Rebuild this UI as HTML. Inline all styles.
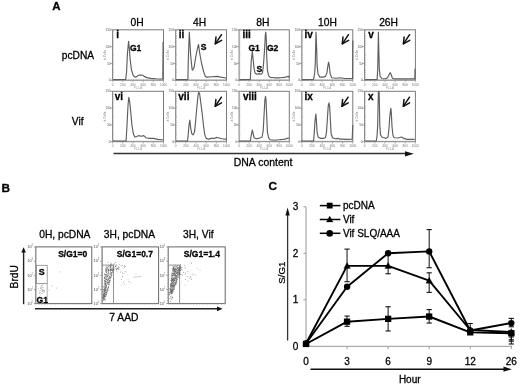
<!DOCTYPE html>
<html><head><meta charset="utf-8"><style>
html,body{margin:0;padding:0;background:#fff;}
svg{display:block;will-change:transform;}
.t{stroke:#000;stroke-width:0.28px;}
</style></head><body>
<svg width="520" height="385" viewBox="0 0 520 385">
<rect width="520" height="385" fill="#fff"/>
<text class="t" x="52.3" y="10" font-family="Liberation Sans, sans-serif" font-size="11.5" font-weight="bold">A</text>
<text class="t" x="137" y="26" font-family="Liberation Sans, sans-serif" font-size="10.3" text-anchor="middle">0H</text>
<text class="t" x="199.6" y="26" font-family="Liberation Sans, sans-serif" font-size="10.3" text-anchor="middle">4H</text>
<text class="t" x="262.9" y="26" font-family="Liberation Sans, sans-serif" font-size="10.3" text-anchor="middle">8H</text>
<text class="t" x="327.5" y="26" font-family="Liberation Sans, sans-serif" font-size="10.3" text-anchor="middle">10H</text>
<text class="t" x="388.6" y="26" font-family="Liberation Sans, sans-serif" font-size="10.3" text-anchor="middle">26H</text>
<text class="t" x="61.8" y="58.6" font-family="Liberation Sans, sans-serif" font-size="10.2">pcDNA</text>
<text class="t" x="71.8" y="125" font-family="Liberation Sans, sans-serif" font-size="10.2">Vif</text>
<rect x="112.6" y="29.8" width="50.9" height="50.4" fill="none" stroke="#7a7a7a" stroke-width="1"/><line x1="113.3" y1="29.8" x2="113.3" y2="80.2" stroke="#aaa" stroke-width="1.2" stroke-dasharray="0.6 1.1"/><line x1="112.6" y1="79.5" x2="163.5" y2="79.5" stroke="#aaa" stroke-width="1.2" stroke-dasharray="0.6 1.1"/><line x1="110.19999999999999" y1="29.8" x2="112.6" y2="29.8" stroke="#888" stroke-width="0.8"/><text x="110.6" y="30.900000000000002" font-family="Liberation Sans, sans-serif" font-size="3.1" fill="#555" text-anchor="end">150</text><line x1="110.19999999999999" y1="46.6" x2="112.6" y2="46.6" stroke="#888" stroke-width="0.8"/><text x="110.6" y="47.7" font-family="Liberation Sans, sans-serif" font-size="3.1" fill="#555" text-anchor="end">100</text><line x1="110.19999999999999" y1="63.400000000000006" x2="112.6" y2="63.400000000000006" stroke="#888" stroke-width="0.8"/><text x="110.6" y="64.5" font-family="Liberation Sans, sans-serif" font-size="3.1" fill="#555" text-anchor="end">50</text><line x1="110.19999999999999" y1="80.2" x2="112.6" y2="80.2" stroke="#888" stroke-width="0.8"/><text x="110.6" y="81.3" font-family="Liberation Sans, sans-serif" font-size="3.1" fill="#555" text-anchor="end">0</text><text transform="translate(106.0,55.0) rotate(-90)" font-family="Liberation Sans, sans-serif" font-size="3.2" fill="#777" text-anchor="middle"># Cells</text><line x1="112.6" y1="80.2" x2="112.6" y2="82.2" stroke="#999" stroke-width="0.7"/><text x="112.6" y="85.8" font-family="Liberation Sans, sans-serif" font-size="3.2" fill="#777" text-anchor="middle">0</text><line x1="122.78" y1="80.2" x2="122.78" y2="82.2" stroke="#999" stroke-width="0.7"/><text x="122.78" y="85.8" font-family="Liberation Sans, sans-serif" font-size="3.2" fill="#777" text-anchor="middle">200</text><line x1="132.95999999999998" y1="80.2" x2="132.95999999999998" y2="82.2" stroke="#999" stroke-width="0.7"/><text x="132.95999999999998" y="85.8" font-family="Liberation Sans, sans-serif" font-size="3.2" fill="#777" text-anchor="middle">400</text><line x1="143.14" y1="80.2" x2="143.14" y2="82.2" stroke="#999" stroke-width="0.7"/><text x="143.14" y="85.8" font-family="Liberation Sans, sans-serif" font-size="3.2" fill="#777" text-anchor="middle">600</text><line x1="153.32" y1="80.2" x2="153.32" y2="82.2" stroke="#999" stroke-width="0.7"/><text x="153.32" y="85.8" font-family="Liberation Sans, sans-serif" font-size="3.2" fill="#777" text-anchor="middle">800</text><line x1="163.5" y1="80.2" x2="163.5" y2="82.2" stroke="#999" stroke-width="0.7"/><text x="163.5" y="85.8" font-family="Liberation Sans, sans-serif" font-size="3.2" fill="#777" text-anchor="middle">1000</text><text x="138.04999999999998" y="88.60000000000001" font-family="Liberation Sans, sans-serif" font-size="3" fill="#999" text-anchor="middle">FL2-A</text>
<rect x="175.7" y="29.8" width="50.8" height="50.4" fill="none" stroke="#7a7a7a" stroke-width="1"/><line x1="176.39999999999998" y1="29.8" x2="176.39999999999998" y2="80.2" stroke="#aaa" stroke-width="1.2" stroke-dasharray="0.6 1.1"/><line x1="175.7" y1="79.5" x2="226.5" y2="79.5" stroke="#aaa" stroke-width="1.2" stroke-dasharray="0.6 1.1"/><line x1="173.29999999999998" y1="29.8" x2="175.7" y2="29.8" stroke="#888" stroke-width="0.8"/><text x="173.7" y="30.900000000000002" font-family="Liberation Sans, sans-serif" font-size="3.1" fill="#555" text-anchor="end">150</text><line x1="173.29999999999998" y1="46.6" x2="175.7" y2="46.6" stroke="#888" stroke-width="0.8"/><text x="173.7" y="47.7" font-family="Liberation Sans, sans-serif" font-size="3.1" fill="#555" text-anchor="end">100</text><line x1="173.29999999999998" y1="63.400000000000006" x2="175.7" y2="63.400000000000006" stroke="#888" stroke-width="0.8"/><text x="173.7" y="64.5" font-family="Liberation Sans, sans-serif" font-size="3.1" fill="#555" text-anchor="end">50</text><line x1="173.29999999999998" y1="80.2" x2="175.7" y2="80.2" stroke="#888" stroke-width="0.8"/><text x="173.7" y="81.3" font-family="Liberation Sans, sans-serif" font-size="3.1" fill="#555" text-anchor="end">0</text><text transform="translate(169.1,55.0) rotate(-90)" font-family="Liberation Sans, sans-serif" font-size="3.2" fill="#777" text-anchor="middle"># Cells</text><line x1="175.7" y1="80.2" x2="175.7" y2="82.2" stroke="#999" stroke-width="0.7"/><text x="175.7" y="85.8" font-family="Liberation Sans, sans-serif" font-size="3.2" fill="#777" text-anchor="middle">0</text><line x1="185.85999999999999" y1="80.2" x2="185.85999999999999" y2="82.2" stroke="#999" stroke-width="0.7"/><text x="185.85999999999999" y="85.8" font-family="Liberation Sans, sans-serif" font-size="3.2" fill="#777" text-anchor="middle">200</text><line x1="196.01999999999998" y1="80.2" x2="196.01999999999998" y2="82.2" stroke="#999" stroke-width="0.7"/><text x="196.01999999999998" y="85.8" font-family="Liberation Sans, sans-serif" font-size="3.2" fill="#777" text-anchor="middle">400</text><line x1="206.17999999999998" y1="80.2" x2="206.17999999999998" y2="82.2" stroke="#999" stroke-width="0.7"/><text x="206.17999999999998" y="85.8" font-family="Liberation Sans, sans-serif" font-size="3.2" fill="#777" text-anchor="middle">600</text><line x1="216.33999999999997" y1="80.2" x2="216.33999999999997" y2="82.2" stroke="#999" stroke-width="0.7"/><text x="216.33999999999997" y="85.8" font-family="Liberation Sans, sans-serif" font-size="3.2" fill="#777" text-anchor="middle">800</text><line x1="226.5" y1="80.2" x2="226.5" y2="82.2" stroke="#999" stroke-width="0.7"/><text x="226.5" y="85.8" font-family="Liberation Sans, sans-serif" font-size="3.2" fill="#777" text-anchor="middle">1000</text><text x="201.1" y="88.60000000000001" font-family="Liberation Sans, sans-serif" font-size="3" fill="#999" text-anchor="middle">FL2-A</text>
<rect x="239.1" y="29.8" width="50.2" height="50.4" fill="none" stroke="#7a7a7a" stroke-width="1"/><line x1="239.79999999999998" y1="29.8" x2="239.79999999999998" y2="80.2" stroke="#aaa" stroke-width="1.2" stroke-dasharray="0.6 1.1"/><line x1="239.1" y1="79.5" x2="289.3" y2="79.5" stroke="#aaa" stroke-width="1.2" stroke-dasharray="0.6 1.1"/><line x1="236.7" y1="29.8" x2="239.1" y2="29.8" stroke="#888" stroke-width="0.8"/><text x="237.1" y="30.900000000000002" font-family="Liberation Sans, sans-serif" font-size="3.1" fill="#555" text-anchor="end">150</text><line x1="236.7" y1="46.6" x2="239.1" y2="46.6" stroke="#888" stroke-width="0.8"/><text x="237.1" y="47.7" font-family="Liberation Sans, sans-serif" font-size="3.1" fill="#555" text-anchor="end">100</text><line x1="236.7" y1="63.400000000000006" x2="239.1" y2="63.400000000000006" stroke="#888" stroke-width="0.8"/><text x="237.1" y="64.5" font-family="Liberation Sans, sans-serif" font-size="3.1" fill="#555" text-anchor="end">50</text><line x1="236.7" y1="80.2" x2="239.1" y2="80.2" stroke="#888" stroke-width="0.8"/><text x="237.1" y="81.3" font-family="Liberation Sans, sans-serif" font-size="3.1" fill="#555" text-anchor="end">0</text><text transform="translate(232.5,55.0) rotate(-90)" font-family="Liberation Sans, sans-serif" font-size="3.2" fill="#777" text-anchor="middle"># Cells</text><line x1="239.1" y1="80.2" x2="239.1" y2="82.2" stroke="#999" stroke-width="0.7"/><text x="239.1" y="85.8" font-family="Liberation Sans, sans-serif" font-size="3.2" fill="#777" text-anchor="middle">0</text><line x1="249.14" y1="80.2" x2="249.14" y2="82.2" stroke="#999" stroke-width="0.7"/><text x="249.14" y="85.8" font-family="Liberation Sans, sans-serif" font-size="3.2" fill="#777" text-anchor="middle">200</text><line x1="259.18" y1="80.2" x2="259.18" y2="82.2" stroke="#999" stroke-width="0.7"/><text x="259.18" y="85.8" font-family="Liberation Sans, sans-serif" font-size="3.2" fill="#777" text-anchor="middle">400</text><line x1="269.22" y1="80.2" x2="269.22" y2="82.2" stroke="#999" stroke-width="0.7"/><text x="269.22" y="85.8" font-family="Liberation Sans, sans-serif" font-size="3.2" fill="#777" text-anchor="middle">600</text><line x1="279.26" y1="80.2" x2="279.26" y2="82.2" stroke="#999" stroke-width="0.7"/><text x="279.26" y="85.8" font-family="Liberation Sans, sans-serif" font-size="3.2" fill="#777" text-anchor="middle">800</text><line x1="289.3" y1="80.2" x2="289.3" y2="82.2" stroke="#999" stroke-width="0.7"/><text x="289.3" y="85.8" font-family="Liberation Sans, sans-serif" font-size="3.2" fill="#777" text-anchor="middle">1000</text><text x="264.2" y="88.60000000000001" font-family="Liberation Sans, sans-serif" font-size="3" fill="#999" text-anchor="middle">FL2-A</text>
<rect x="301.8" y="29.8" width="51.0" height="50.4" fill="none" stroke="#7a7a7a" stroke-width="1"/><line x1="302.5" y1="29.8" x2="302.5" y2="80.2" stroke="#aaa" stroke-width="1.2" stroke-dasharray="0.6 1.1"/><line x1="301.8" y1="79.5" x2="352.8" y2="79.5" stroke="#aaa" stroke-width="1.2" stroke-dasharray="0.6 1.1"/><line x1="299.40000000000003" y1="29.8" x2="301.8" y2="29.8" stroke="#888" stroke-width="0.8"/><text x="299.8" y="30.900000000000002" font-family="Liberation Sans, sans-serif" font-size="3.1" fill="#555" text-anchor="end">150</text><line x1="299.40000000000003" y1="46.6" x2="301.8" y2="46.6" stroke="#888" stroke-width="0.8"/><text x="299.8" y="47.7" font-family="Liberation Sans, sans-serif" font-size="3.1" fill="#555" text-anchor="end">100</text><line x1="299.40000000000003" y1="63.400000000000006" x2="301.8" y2="63.400000000000006" stroke="#888" stroke-width="0.8"/><text x="299.8" y="64.5" font-family="Liberation Sans, sans-serif" font-size="3.1" fill="#555" text-anchor="end">50</text><line x1="299.40000000000003" y1="80.2" x2="301.8" y2="80.2" stroke="#888" stroke-width="0.8"/><text x="299.8" y="81.3" font-family="Liberation Sans, sans-serif" font-size="3.1" fill="#555" text-anchor="end">0</text><text transform="translate(295.2,55.0) rotate(-90)" font-family="Liberation Sans, sans-serif" font-size="3.2" fill="#777" text-anchor="middle"># Cells</text><line x1="301.8" y1="80.2" x2="301.8" y2="82.2" stroke="#999" stroke-width="0.7"/><text x="301.8" y="85.8" font-family="Liberation Sans, sans-serif" font-size="3.2" fill="#777" text-anchor="middle">0</text><line x1="312.0" y1="80.2" x2="312.0" y2="82.2" stroke="#999" stroke-width="0.7"/><text x="312.0" y="85.8" font-family="Liberation Sans, sans-serif" font-size="3.2" fill="#777" text-anchor="middle">200</text><line x1="322.2" y1="80.2" x2="322.2" y2="82.2" stroke="#999" stroke-width="0.7"/><text x="322.2" y="85.8" font-family="Liberation Sans, sans-serif" font-size="3.2" fill="#777" text-anchor="middle">400</text><line x1="332.40000000000003" y1="80.2" x2="332.40000000000003" y2="82.2" stroke="#999" stroke-width="0.7"/><text x="332.40000000000003" y="85.8" font-family="Liberation Sans, sans-serif" font-size="3.2" fill="#777" text-anchor="middle">600</text><line x1="342.6" y1="80.2" x2="342.6" y2="82.2" stroke="#999" stroke-width="0.7"/><text x="342.6" y="85.8" font-family="Liberation Sans, sans-serif" font-size="3.2" fill="#777" text-anchor="middle">800</text><line x1="352.8" y1="80.2" x2="352.8" y2="82.2" stroke="#999" stroke-width="0.7"/><text x="352.8" y="85.8" font-family="Liberation Sans, sans-serif" font-size="3.2" fill="#777" text-anchor="middle">1000</text><text x="327.3" y="88.60000000000001" font-family="Liberation Sans, sans-serif" font-size="3" fill="#999" text-anchor="middle">FL2-A</text>
<rect x="364.6" y="29.8" width="50.8" height="50.4" fill="none" stroke="#7a7a7a" stroke-width="1"/><line x1="365.3" y1="29.8" x2="365.3" y2="80.2" stroke="#aaa" stroke-width="1.2" stroke-dasharray="0.6 1.1"/><line x1="364.6" y1="79.5" x2="415.40000000000003" y2="79.5" stroke="#aaa" stroke-width="1.2" stroke-dasharray="0.6 1.1"/><line x1="362.20000000000005" y1="29.8" x2="364.6" y2="29.8" stroke="#888" stroke-width="0.8"/><text x="362.6" y="30.900000000000002" font-family="Liberation Sans, sans-serif" font-size="3.1" fill="#555" text-anchor="end">150</text><line x1="362.20000000000005" y1="46.6" x2="364.6" y2="46.6" stroke="#888" stroke-width="0.8"/><text x="362.6" y="47.7" font-family="Liberation Sans, sans-serif" font-size="3.1" fill="#555" text-anchor="end">100</text><line x1="362.20000000000005" y1="63.400000000000006" x2="364.6" y2="63.400000000000006" stroke="#888" stroke-width="0.8"/><text x="362.6" y="64.5" font-family="Liberation Sans, sans-serif" font-size="3.1" fill="#555" text-anchor="end">50</text><line x1="362.20000000000005" y1="80.2" x2="364.6" y2="80.2" stroke="#888" stroke-width="0.8"/><text x="362.6" y="81.3" font-family="Liberation Sans, sans-serif" font-size="3.1" fill="#555" text-anchor="end">0</text><text transform="translate(358.0,55.0) rotate(-90)" font-family="Liberation Sans, sans-serif" font-size="3.2" fill="#777" text-anchor="middle"># Cells</text><line x1="364.6" y1="80.2" x2="364.6" y2="82.2" stroke="#999" stroke-width="0.7"/><text x="364.6" y="85.8" font-family="Liberation Sans, sans-serif" font-size="3.2" fill="#777" text-anchor="middle">0</text><line x1="374.76000000000005" y1="80.2" x2="374.76000000000005" y2="82.2" stroke="#999" stroke-width="0.7"/><text x="374.76000000000005" y="85.8" font-family="Liberation Sans, sans-serif" font-size="3.2" fill="#777" text-anchor="middle">200</text><line x1="384.92" y1="80.2" x2="384.92" y2="82.2" stroke="#999" stroke-width="0.7"/><text x="384.92" y="85.8" font-family="Liberation Sans, sans-serif" font-size="3.2" fill="#777" text-anchor="middle">400</text><line x1="395.08000000000004" y1="80.2" x2="395.08000000000004" y2="82.2" stroke="#999" stroke-width="0.7"/><text x="395.08000000000004" y="85.8" font-family="Liberation Sans, sans-serif" font-size="3.2" fill="#777" text-anchor="middle">600</text><line x1="405.24" y1="80.2" x2="405.24" y2="82.2" stroke="#999" stroke-width="0.7"/><text x="405.24" y="85.8" font-family="Liberation Sans, sans-serif" font-size="3.2" fill="#777" text-anchor="middle">800</text><line x1="415.40000000000003" y1="80.2" x2="415.40000000000003" y2="82.2" stroke="#999" stroke-width="0.7"/><text x="415.40000000000003" y="85.8" font-family="Liberation Sans, sans-serif" font-size="3.2" fill="#777" text-anchor="middle">1000</text><text x="390.0" y="88.60000000000001" font-family="Liberation Sans, sans-serif" font-size="3" fill="#999" text-anchor="middle">FL2-A</text>
<rect x="112.6" y="91.3" width="50.9" height="50.4" fill="none" stroke="#7a7a7a" stroke-width="1"/><line x1="113.3" y1="91.3" x2="113.3" y2="141.7" stroke="#aaa" stroke-width="1.2" stroke-dasharray="0.6 1.1"/><line x1="112.6" y1="141.0" x2="163.5" y2="141.0" stroke="#aaa" stroke-width="1.2" stroke-dasharray="0.6 1.1"/><line x1="110.19999999999999" y1="91.3" x2="112.6" y2="91.3" stroke="#888" stroke-width="0.8"/><text x="110.6" y="92.39999999999999" font-family="Liberation Sans, sans-serif" font-size="3.1" fill="#555" text-anchor="end">150</text><line x1="110.19999999999999" y1="108.1" x2="112.6" y2="108.1" stroke="#888" stroke-width="0.8"/><text x="110.6" y="109.19999999999999" font-family="Liberation Sans, sans-serif" font-size="3.1" fill="#555" text-anchor="end">100</text><line x1="110.19999999999999" y1="124.9" x2="112.6" y2="124.9" stroke="#888" stroke-width="0.8"/><text x="110.6" y="126.0" font-family="Liberation Sans, sans-serif" font-size="3.1" fill="#555" text-anchor="end">50</text><line x1="110.19999999999999" y1="141.7" x2="112.6" y2="141.7" stroke="#888" stroke-width="0.8"/><text x="110.6" y="142.79999999999998" font-family="Liberation Sans, sans-serif" font-size="3.1" fill="#555" text-anchor="end">0</text><text transform="translate(106.0,116.5) rotate(-90)" font-family="Liberation Sans, sans-serif" font-size="3.2" fill="#777" text-anchor="middle"># Cells</text><line x1="112.6" y1="141.7" x2="112.6" y2="143.7" stroke="#999" stroke-width="0.7"/><text x="112.6" y="147.29999999999998" font-family="Liberation Sans, sans-serif" font-size="3.2" fill="#777" text-anchor="middle">0</text><line x1="122.78" y1="141.7" x2="122.78" y2="143.7" stroke="#999" stroke-width="0.7"/><text x="122.78" y="147.29999999999998" font-family="Liberation Sans, sans-serif" font-size="3.2" fill="#777" text-anchor="middle">200</text><line x1="132.95999999999998" y1="141.7" x2="132.95999999999998" y2="143.7" stroke="#999" stroke-width="0.7"/><text x="132.95999999999998" y="147.29999999999998" font-family="Liberation Sans, sans-serif" font-size="3.2" fill="#777" text-anchor="middle">400</text><line x1="143.14" y1="141.7" x2="143.14" y2="143.7" stroke="#999" stroke-width="0.7"/><text x="143.14" y="147.29999999999998" font-family="Liberation Sans, sans-serif" font-size="3.2" fill="#777" text-anchor="middle">600</text><line x1="153.32" y1="141.7" x2="153.32" y2="143.7" stroke="#999" stroke-width="0.7"/><text x="153.32" y="147.29999999999998" font-family="Liberation Sans, sans-serif" font-size="3.2" fill="#777" text-anchor="middle">800</text><line x1="163.5" y1="141.7" x2="163.5" y2="143.7" stroke="#999" stroke-width="0.7"/><text x="163.5" y="147.29999999999998" font-family="Liberation Sans, sans-serif" font-size="3.2" fill="#777" text-anchor="middle">1000</text><text x="138.04999999999998" y="150.1" font-family="Liberation Sans, sans-serif" font-size="3" fill="#999" text-anchor="middle">FL2-A</text>
<rect x="175.7" y="91.3" width="50.8" height="50.4" fill="none" stroke="#7a7a7a" stroke-width="1"/><line x1="176.39999999999998" y1="91.3" x2="176.39999999999998" y2="141.7" stroke="#aaa" stroke-width="1.2" stroke-dasharray="0.6 1.1"/><line x1="175.7" y1="141.0" x2="226.5" y2="141.0" stroke="#aaa" stroke-width="1.2" stroke-dasharray="0.6 1.1"/><line x1="173.29999999999998" y1="91.3" x2="175.7" y2="91.3" stroke="#888" stroke-width="0.8"/><text x="173.7" y="92.39999999999999" font-family="Liberation Sans, sans-serif" font-size="3.1" fill="#555" text-anchor="end">150</text><line x1="173.29999999999998" y1="108.1" x2="175.7" y2="108.1" stroke="#888" stroke-width="0.8"/><text x="173.7" y="109.19999999999999" font-family="Liberation Sans, sans-serif" font-size="3.1" fill="#555" text-anchor="end">100</text><line x1="173.29999999999998" y1="124.9" x2="175.7" y2="124.9" stroke="#888" stroke-width="0.8"/><text x="173.7" y="126.0" font-family="Liberation Sans, sans-serif" font-size="3.1" fill="#555" text-anchor="end">50</text><line x1="173.29999999999998" y1="141.7" x2="175.7" y2="141.7" stroke="#888" stroke-width="0.8"/><text x="173.7" y="142.79999999999998" font-family="Liberation Sans, sans-serif" font-size="3.1" fill="#555" text-anchor="end">0</text><text transform="translate(169.1,116.5) rotate(-90)" font-family="Liberation Sans, sans-serif" font-size="3.2" fill="#777" text-anchor="middle"># Cells</text><line x1="175.7" y1="141.7" x2="175.7" y2="143.7" stroke="#999" stroke-width="0.7"/><text x="175.7" y="147.29999999999998" font-family="Liberation Sans, sans-serif" font-size="3.2" fill="#777" text-anchor="middle">0</text><line x1="185.85999999999999" y1="141.7" x2="185.85999999999999" y2="143.7" stroke="#999" stroke-width="0.7"/><text x="185.85999999999999" y="147.29999999999998" font-family="Liberation Sans, sans-serif" font-size="3.2" fill="#777" text-anchor="middle">200</text><line x1="196.01999999999998" y1="141.7" x2="196.01999999999998" y2="143.7" stroke="#999" stroke-width="0.7"/><text x="196.01999999999998" y="147.29999999999998" font-family="Liberation Sans, sans-serif" font-size="3.2" fill="#777" text-anchor="middle">400</text><line x1="206.17999999999998" y1="141.7" x2="206.17999999999998" y2="143.7" stroke="#999" stroke-width="0.7"/><text x="206.17999999999998" y="147.29999999999998" font-family="Liberation Sans, sans-serif" font-size="3.2" fill="#777" text-anchor="middle">600</text><line x1="216.33999999999997" y1="141.7" x2="216.33999999999997" y2="143.7" stroke="#999" stroke-width="0.7"/><text x="216.33999999999997" y="147.29999999999998" font-family="Liberation Sans, sans-serif" font-size="3.2" fill="#777" text-anchor="middle">800</text><line x1="226.5" y1="141.7" x2="226.5" y2="143.7" stroke="#999" stroke-width="0.7"/><text x="226.5" y="147.29999999999998" font-family="Liberation Sans, sans-serif" font-size="3.2" fill="#777" text-anchor="middle">1000</text><text x="201.1" y="150.1" font-family="Liberation Sans, sans-serif" font-size="3" fill="#999" text-anchor="middle">FL2-A</text>
<rect x="239.1" y="91.3" width="50.2" height="50.4" fill="none" stroke="#7a7a7a" stroke-width="1"/><line x1="239.79999999999998" y1="91.3" x2="239.79999999999998" y2="141.7" stroke="#aaa" stroke-width="1.2" stroke-dasharray="0.6 1.1"/><line x1="239.1" y1="141.0" x2="289.3" y2="141.0" stroke="#aaa" stroke-width="1.2" stroke-dasharray="0.6 1.1"/><line x1="236.7" y1="91.3" x2="239.1" y2="91.3" stroke="#888" stroke-width="0.8"/><text x="237.1" y="92.39999999999999" font-family="Liberation Sans, sans-serif" font-size="3.1" fill="#555" text-anchor="end">150</text><line x1="236.7" y1="108.1" x2="239.1" y2="108.1" stroke="#888" stroke-width="0.8"/><text x="237.1" y="109.19999999999999" font-family="Liberation Sans, sans-serif" font-size="3.1" fill="#555" text-anchor="end">100</text><line x1="236.7" y1="124.9" x2="239.1" y2="124.9" stroke="#888" stroke-width="0.8"/><text x="237.1" y="126.0" font-family="Liberation Sans, sans-serif" font-size="3.1" fill="#555" text-anchor="end">50</text><line x1="236.7" y1="141.7" x2="239.1" y2="141.7" stroke="#888" stroke-width="0.8"/><text x="237.1" y="142.79999999999998" font-family="Liberation Sans, sans-serif" font-size="3.1" fill="#555" text-anchor="end">0</text><text transform="translate(232.5,116.5) rotate(-90)" font-family="Liberation Sans, sans-serif" font-size="3.2" fill="#777" text-anchor="middle"># Cells</text><line x1="239.1" y1="141.7" x2="239.1" y2="143.7" stroke="#999" stroke-width="0.7"/><text x="239.1" y="147.29999999999998" font-family="Liberation Sans, sans-serif" font-size="3.2" fill="#777" text-anchor="middle">0</text><line x1="249.14" y1="141.7" x2="249.14" y2="143.7" stroke="#999" stroke-width="0.7"/><text x="249.14" y="147.29999999999998" font-family="Liberation Sans, sans-serif" font-size="3.2" fill="#777" text-anchor="middle">200</text><line x1="259.18" y1="141.7" x2="259.18" y2="143.7" stroke="#999" stroke-width="0.7"/><text x="259.18" y="147.29999999999998" font-family="Liberation Sans, sans-serif" font-size="3.2" fill="#777" text-anchor="middle">400</text><line x1="269.22" y1="141.7" x2="269.22" y2="143.7" stroke="#999" stroke-width="0.7"/><text x="269.22" y="147.29999999999998" font-family="Liberation Sans, sans-serif" font-size="3.2" fill="#777" text-anchor="middle">600</text><line x1="279.26" y1="141.7" x2="279.26" y2="143.7" stroke="#999" stroke-width="0.7"/><text x="279.26" y="147.29999999999998" font-family="Liberation Sans, sans-serif" font-size="3.2" fill="#777" text-anchor="middle">800</text><line x1="289.3" y1="141.7" x2="289.3" y2="143.7" stroke="#999" stroke-width="0.7"/><text x="289.3" y="147.29999999999998" font-family="Liberation Sans, sans-serif" font-size="3.2" fill="#777" text-anchor="middle">1000</text><text x="264.2" y="150.1" font-family="Liberation Sans, sans-serif" font-size="3" fill="#999" text-anchor="middle">FL2-A</text>
<rect x="301.8" y="91.3" width="51.0" height="50.4" fill="none" stroke="#7a7a7a" stroke-width="1"/><line x1="302.5" y1="91.3" x2="302.5" y2="141.7" stroke="#aaa" stroke-width="1.2" stroke-dasharray="0.6 1.1"/><line x1="301.8" y1="141.0" x2="352.8" y2="141.0" stroke="#aaa" stroke-width="1.2" stroke-dasharray="0.6 1.1"/><line x1="299.40000000000003" y1="91.3" x2="301.8" y2="91.3" stroke="#888" stroke-width="0.8"/><text x="299.8" y="92.39999999999999" font-family="Liberation Sans, sans-serif" font-size="3.1" fill="#555" text-anchor="end">150</text><line x1="299.40000000000003" y1="108.1" x2="301.8" y2="108.1" stroke="#888" stroke-width="0.8"/><text x="299.8" y="109.19999999999999" font-family="Liberation Sans, sans-serif" font-size="3.1" fill="#555" text-anchor="end">100</text><line x1="299.40000000000003" y1="124.9" x2="301.8" y2="124.9" stroke="#888" stroke-width="0.8"/><text x="299.8" y="126.0" font-family="Liberation Sans, sans-serif" font-size="3.1" fill="#555" text-anchor="end">50</text><line x1="299.40000000000003" y1="141.7" x2="301.8" y2="141.7" stroke="#888" stroke-width="0.8"/><text x="299.8" y="142.79999999999998" font-family="Liberation Sans, sans-serif" font-size="3.1" fill="#555" text-anchor="end">0</text><text transform="translate(295.2,116.5) rotate(-90)" font-family="Liberation Sans, sans-serif" font-size="3.2" fill="#777" text-anchor="middle"># Cells</text><line x1="301.8" y1="141.7" x2="301.8" y2="143.7" stroke="#999" stroke-width="0.7"/><text x="301.8" y="147.29999999999998" font-family="Liberation Sans, sans-serif" font-size="3.2" fill="#777" text-anchor="middle">0</text><line x1="312.0" y1="141.7" x2="312.0" y2="143.7" stroke="#999" stroke-width="0.7"/><text x="312.0" y="147.29999999999998" font-family="Liberation Sans, sans-serif" font-size="3.2" fill="#777" text-anchor="middle">200</text><line x1="322.2" y1="141.7" x2="322.2" y2="143.7" stroke="#999" stroke-width="0.7"/><text x="322.2" y="147.29999999999998" font-family="Liberation Sans, sans-serif" font-size="3.2" fill="#777" text-anchor="middle">400</text><line x1="332.40000000000003" y1="141.7" x2="332.40000000000003" y2="143.7" stroke="#999" stroke-width="0.7"/><text x="332.40000000000003" y="147.29999999999998" font-family="Liberation Sans, sans-serif" font-size="3.2" fill="#777" text-anchor="middle">600</text><line x1="342.6" y1="141.7" x2="342.6" y2="143.7" stroke="#999" stroke-width="0.7"/><text x="342.6" y="147.29999999999998" font-family="Liberation Sans, sans-serif" font-size="3.2" fill="#777" text-anchor="middle">800</text><line x1="352.8" y1="141.7" x2="352.8" y2="143.7" stroke="#999" stroke-width="0.7"/><text x="352.8" y="147.29999999999998" font-family="Liberation Sans, sans-serif" font-size="3.2" fill="#777" text-anchor="middle">1000</text><text x="327.3" y="150.1" font-family="Liberation Sans, sans-serif" font-size="3" fill="#999" text-anchor="middle">FL2-A</text>
<rect x="364.6" y="91.3" width="50.8" height="50.4" fill="none" stroke="#7a7a7a" stroke-width="1"/><line x1="365.3" y1="91.3" x2="365.3" y2="141.7" stroke="#aaa" stroke-width="1.2" stroke-dasharray="0.6 1.1"/><line x1="364.6" y1="141.0" x2="415.40000000000003" y2="141.0" stroke="#aaa" stroke-width="1.2" stroke-dasharray="0.6 1.1"/><line x1="362.20000000000005" y1="91.3" x2="364.6" y2="91.3" stroke="#888" stroke-width="0.8"/><text x="362.6" y="92.39999999999999" font-family="Liberation Sans, sans-serif" font-size="3.1" fill="#555" text-anchor="end">150</text><line x1="362.20000000000005" y1="108.1" x2="364.6" y2="108.1" stroke="#888" stroke-width="0.8"/><text x="362.6" y="109.19999999999999" font-family="Liberation Sans, sans-serif" font-size="3.1" fill="#555" text-anchor="end">100</text><line x1="362.20000000000005" y1="124.9" x2="364.6" y2="124.9" stroke="#888" stroke-width="0.8"/><text x="362.6" y="126.0" font-family="Liberation Sans, sans-serif" font-size="3.1" fill="#555" text-anchor="end">50</text><line x1="362.20000000000005" y1="141.7" x2="364.6" y2="141.7" stroke="#888" stroke-width="0.8"/><text x="362.6" y="142.79999999999998" font-family="Liberation Sans, sans-serif" font-size="3.1" fill="#555" text-anchor="end">0</text><text transform="translate(358.0,116.5) rotate(-90)" font-family="Liberation Sans, sans-serif" font-size="3.2" fill="#777" text-anchor="middle"># Cells</text><line x1="364.6" y1="141.7" x2="364.6" y2="143.7" stroke="#999" stroke-width="0.7"/><text x="364.6" y="147.29999999999998" font-family="Liberation Sans, sans-serif" font-size="3.2" fill="#777" text-anchor="middle">0</text><line x1="374.76000000000005" y1="141.7" x2="374.76000000000005" y2="143.7" stroke="#999" stroke-width="0.7"/><text x="374.76000000000005" y="147.29999999999998" font-family="Liberation Sans, sans-serif" font-size="3.2" fill="#777" text-anchor="middle">200</text><line x1="384.92" y1="141.7" x2="384.92" y2="143.7" stroke="#999" stroke-width="0.7"/><text x="384.92" y="147.29999999999998" font-family="Liberation Sans, sans-serif" font-size="3.2" fill="#777" text-anchor="middle">400</text><line x1="395.08000000000004" y1="141.7" x2="395.08000000000004" y2="143.7" stroke="#999" stroke-width="0.7"/><text x="395.08000000000004" y="147.29999999999998" font-family="Liberation Sans, sans-serif" font-size="3.2" fill="#777" text-anchor="middle">600</text><line x1="405.24" y1="141.7" x2="405.24" y2="143.7" stroke="#999" stroke-width="0.7"/><text x="405.24" y="147.29999999999998" font-family="Liberation Sans, sans-serif" font-size="3.2" fill="#777" text-anchor="middle">800</text><line x1="415.40000000000003" y1="141.7" x2="415.40000000000003" y2="143.7" stroke="#999" stroke-width="0.7"/><text x="415.40000000000003" y="147.29999999999998" font-family="Liberation Sans, sans-serif" font-size="3.2" fill="#777" text-anchor="middle">1000</text><text x="390.0" y="150.1" font-family="Liberation Sans, sans-serif" font-size="3" fill="#999" text-anchor="middle">FL2-A</text>
<polyline points="113,79.6 125.7,79.4 126.6,71.8 127.4,53.9 128.6,41.4 129.3,48 130.2,59.9 131.4,69.5 133.1,75.4 134.9,77.2 136.7,76.6 138.5,75.2 140.3,75 142.7,75.2 144.5,76.6 146.9,77.6 151,78.4 155.8,78.8 161.2,79 162.8,79 163.1,42" fill="none" stroke="#5e5e5e" stroke-width="1.15" stroke-linejoin="round"/>
<polyline points="176,79.6 187.9,79.6 188.3,60 189.3,32.2 190.7,56 192.1,69.4 192.7,70.1 194.1,67.3 195.9,56 198,46.2 198.6,44.5 199.7,53.2 201.5,63 203.6,71.5 205.3,76.4 207.1,77.1 212,76.8 217.7,76.4 220.5,77.1 224.7,77.8 226,78.2" fill="none" stroke="#5e5e5e" stroke-width="1.15" stroke-linejoin="round"/>
<polyline points="239.5,79.6 250.3,79.4 251.3,60.3 252.3,51.6 253.1,58.9 254.1,68.7 255.1,73.2 256.9,74.3 259,73.6 261.1,74.3 262.5,72.9 263.5,64.5 264.6,49 265.3,35 265.8,32.2 266.3,39.2 266.7,56 267.4,70.1 268.6,75.7 270.2,77.4 274.5,77.8 280,77.8 285,77.4 287.1,76.4 288.6,77.1 289.2,75.7" fill="none" stroke="#5e5e5e" stroke-width="1.15" stroke-linejoin="round"/>
<polyline points="302,79.6 313.5,79.4 313.9,77.8 314.7,72.9 315.3,63 316,32.2 316.7,49 317.1,65.9 318.1,74.3 319.9,77.1 323.4,77.1 325.5,76.4 326.9,72.9 327.9,65.9 328.6,62.1 329.3,65.9 330.2,74.3 331.8,77.8 336.1,78.2 340.3,77.8 344.5,78.5 351.5,78.5 352.6,78.5 352.8,40.6" fill="none" stroke="#5e5e5e" stroke-width="1.15" stroke-linejoin="round"/>
<polyline points="365,79.6 377.1,79.4 377.7,70.1 378.1,49 378.4,32.2 378.8,49 379.3,68.7 380.1,76.4 381.9,78.5 385.4,78.8 387.5,77.8 388.9,75 390.3,72.6 391.3,75 392.4,78.2 394,78.8 414.8,78.8 415,68.7" fill="none" stroke="#5e5e5e" stroke-width="1.15" stroke-linejoin="round"/>
<polyline points="113,141 126.1,141 127,125.1 128.1,104 128.8,97.3 129.8,102.6 130.9,113.8 131.9,125.1 133.3,133.5 134.7,137 136.8,136.6 138.9,135.6 141,136.3 143.8,135.6 145.9,137.7 149.5,138.4 153.7,138.4 157.9,139.4 162.1,139.8 163,140" fill="none" stroke="#5e5e5e" stroke-width="1.15" stroke-linejoin="round"/>
<polyline points="176,141 187.5,141 188.2,134.9 189,125 189.9,120.2 190.7,127.9 191.7,133.5 193.1,134.9 194.5,132.1 195.9,118 196.9,106.8 198,95.6 198.7,92.1 199.7,94.2 200.8,102.6 202.2,113.8 203.6,126.5 204.8,134.9 206.2,138.4 208.5,139.1 211.3,138.4 214.2,138.4 216.3,137.4 219.1,138 221.9,138.8 226.1,139.4" fill="none" stroke="#5e5e5e" stroke-width="1.15" stroke-linejoin="round"/>
<polyline points="239,141 250.3,141 251.3,134.9 252.3,130 253.1,133.5 254.1,137.7 256.2,138.8 258.3,138.4 260.4,137.7 262.1,137 263.2,130.7 264.2,112.4 264.9,99.8 265.5,96.3 266,99.8 266.7,115.2 267.4,132.1 268.6,137.7 270.2,139.8 274.5,140.2 278.7,139.8 282.9,139.4 285,139.1 287.1,138.4 289.1,138" fill="none" stroke="#5e5e5e" stroke-width="1.15" stroke-linejoin="round"/>
<polyline points="301,141 313.6,141 314.3,132.1 315,120.9 315.9,114.1 316.4,120.9 317.1,132.1 318.1,137 320.6,138.4 323.4,138.4 325.5,137.4 326.5,132.1 327.6,115.2 328.3,105.4 329,102.9 329.7,106.8 330.4,120.9 331.1,133.5 332.5,137.7 335.3,138.8 338.2,138.4 339.6,139.1 341.7,139.1 347.3,139.4 352.2,139.1 352.8,125" fill="none" stroke="#5e5e5e" stroke-width="1.15" stroke-linejoin="round"/>
<polyline points="365,141 376.3,141 377,136.3 377.7,125.1 378.1,104 378.4,91.6 379.1,91.6 379.4,104 379.8,125.1 380.5,134.9 381.9,137 384,137.7 386.1,138.4 388,137 388.9,129.3 389.9,115.2 390.8,108.2 391.3,112.4 392,126.5 392.9,134.9 394.1,137.7 398,138 401.6,137 403.7,138.4 407.2,139.4 412.1,139.4 414.6,139.4" fill="none" stroke="#5e5e5e" stroke-width="1.15" stroke-linejoin="round"/>
<text class="t" x="116.2" y="38.2" font-family="Liberation Sans, sans-serif" font-size="10" font-weight="bold">i</text>
<text class="t" x="178.7" y="38.2" font-family="Liberation Sans, sans-serif" font-size="10" font-weight="bold">ii</text>
<text class="t" x="242.4" y="38.2" font-family="Liberation Sans, sans-serif" font-size="10" font-weight="bold">iii</text>
<text class="t" x="304.6" y="38.2" font-family="Liberation Sans, sans-serif" font-size="10" font-weight="bold">iv</text>
<text class="t" x="368.3" y="38.2" font-family="Liberation Sans, sans-serif" font-size="10" font-weight="bold">v</text>
<text class="t" x="114.8" y="100.1" font-family="Liberation Sans, sans-serif" font-size="10" font-weight="bold">vi</text>
<text class="t" x="178.3" y="100.1" font-family="Liberation Sans, sans-serif" font-size="10" font-weight="bold">vii</text>
<text class="t" x="242.9" y="100.1" font-family="Liberation Sans, sans-serif" font-size="10" font-weight="bold">viii</text>
<text class="t" x="304.5" y="100.1" font-family="Liberation Sans, sans-serif" font-size="10" font-weight="bold">ix</text>
<text class="t" x="368" y="100.1" font-family="Liberation Sans, sans-serif" font-size="10" font-weight="bold">x</text>
<text class="t" x="130.0" y="50.5" font-family="Liberation Sans, sans-serif" font-size="8.5" font-weight="bold">G1</text>
<text class="t" x="200.8" y="50.1" font-family="Liberation Sans, sans-serif" font-size="8.6" font-weight="bold">S</text>
<text class="t" x="248.5" y="50.5" font-family="Liberation Sans, sans-serif" font-size="8.5" font-weight="bold">G1</text>
<text class="t" x="267.0" y="50.5" font-family="Liberation Sans, sans-serif" font-size="8.5" font-weight="bold">G2</text>
<text class="t" x="256.6" y="71.9" font-family="Liberation Sans, sans-serif" font-size="8.6" font-weight="bold">S</text>
<polyline points="216.0,37.0 215.3,43.8 221.6,40.4" stroke="#111" stroke-width="1.5" stroke-linecap="round" fill="none" stroke-linejoin="round"/><line x1="215.3" y1="43.8" x2="221.5" y2="34.7" stroke="#111" stroke-width="1.5" stroke-linecap="round" fill="none"/>
<polyline points="343.0,37.0 342.3,43.8 348.6,40.4" stroke="#111" stroke-width="1.5" stroke-linecap="round" fill="none" stroke-linejoin="round"/><line x1="342.3" y1="43.8" x2="348.5" y2="34.7" stroke="#111" stroke-width="1.5" stroke-linecap="round" fill="none"/>
<polyline points="404.1,37.0 403.4,43.8 409.7,40.4" stroke="#111" stroke-width="1.5" stroke-linecap="round" fill="none" stroke-linejoin="round"/><line x1="403.4" y1="43.8" x2="409.6" y2="34.7" stroke="#111" stroke-width="1.5" stroke-linecap="round" fill="none"/>
<polyline points="215.9,99.5 215.2,106.3 221.5,102.9" stroke="#111" stroke-width="1.5" stroke-linecap="round" fill="none" stroke-linejoin="round"/><line x1="215.2" y1="106.3" x2="221.4" y2="97.2" stroke="#111" stroke-width="1.5" stroke-linecap="round" fill="none"/>
<polyline points="342.6,99.5 341.9,106.3 348.2,102.9" stroke="#111" stroke-width="1.5" stroke-linecap="round" fill="none" stroke-linejoin="round"/><line x1="341.9" y1="106.3" x2="348.1" y2="97.2" stroke="#111" stroke-width="1.5" stroke-linecap="round" fill="none"/>
<polyline points="404.0,99.5 403.3,106.3 409.6,102.9" stroke="#111" stroke-width="1.5" stroke-linecap="round" fill="none" stroke-linejoin="round"/><line x1="403.3" y1="106.3" x2="409.5" y2="97.2" stroke="#111" stroke-width="1.5" stroke-linecap="round" fill="none"/>
<line x1="113.5" y1="153.6" x2="406" y2="153.6" stroke="#333" stroke-width="1.5"/>
<polygon points="413.8,153.8 405,151.2 405,156.4" fill="#111"/>
<text class="t" x="233.8" y="165.5" font-family="Liberation Sans, sans-serif" font-size="10.45">DNA content</text>
<text class="t" x="1.6" y="192.2" font-family="Liberation Sans, sans-serif" font-size="11.8" font-weight="bold">B</text>
<text class="t" x="39.2" y="238.2" font-family="Liberation Sans, sans-serif" font-size="10.25">0H, pcDNA</text>
<text class="t" x="103.8" y="238.2" font-family="Liberation Sans, sans-serif" font-size="10.25">3H, pcDNA</text>
<text class="t" x="183.0" y="238.2" font-family="Liberation Sans, sans-serif" font-size="10.25">3H, Vif</text>
<text class="t" x="58.2" y="256.8" font-family="Liberation Sans, sans-serif" font-size="8.5" font-weight="bold">S/G1=0</text>
<text class="t" x="116.8" y="256.8" font-family="Liberation Sans, sans-serif" font-size="8.5" font-weight="bold">S/G1=0.7</text>
<text class="t" x="183.8" y="256.8" font-family="Liberation Sans, sans-serif" font-size="8.5" font-weight="bold">S/G1=1.4</text>
<rect x="35.8" y="246.9" width="56" height="56.70000000000002" fill="none" stroke="#666" stroke-width="1"/>
<line x1="35.8" y1="303.6" x2="91.8" y2="303.6" stroke="#999" stroke-width="1.6" stroke-dasharray="0.6 2.2"/>
<line x1="35.8" y1="246.9" x2="35.8" y2="303.6" stroke="#999" stroke-width="1.6" stroke-dasharray="0.6 2.2"/>
<text x="27.299999999999997" y="248.3" font-family="Liberation Sans, sans-serif" font-size="3.8" fill="#444">10</text>
<text x="31.4" y="246.3" font-family="Liberation Sans, sans-serif" font-size="2.6" fill="#777">4</text>
<line x1="33.8" y1="246.9" x2="35.8" y2="246.9" stroke="#888" stroke-width="0.8"/>
<text x="27.299999999999997" y="262.47499999999997" font-family="Liberation Sans, sans-serif" font-size="3.8" fill="#444">10</text>
<text x="31.4" y="260.47499999999997" font-family="Liberation Sans, sans-serif" font-size="2.6" fill="#777">3</text>
<line x1="33.8" y1="261.075" x2="35.8" y2="261.075" stroke="#888" stroke-width="0.8"/>
<text x="27.299999999999997" y="276.65" font-family="Liberation Sans, sans-serif" font-size="3.8" fill="#444">10</text>
<text x="31.4" y="274.65" font-family="Liberation Sans, sans-serif" font-size="2.6" fill="#777">2</text>
<line x1="33.8" y1="275.25" x2="35.8" y2="275.25" stroke="#888" stroke-width="0.8"/>
<text x="27.299999999999997" y="290.825" font-family="Liberation Sans, sans-serif" font-size="3.8" fill="#444">10</text>
<text x="31.4" y="288.825" font-family="Liberation Sans, sans-serif" font-size="2.6" fill="#777">1</text>
<line x1="33.8" y1="289.425" x2="35.8" y2="289.425" stroke="#888" stroke-width="0.8"/>
<text x="27.299999999999997" y="305.0" font-family="Liberation Sans, sans-serif" font-size="3.8" fill="#444">10</text>
<text x="31.4" y="303.0" font-family="Liberation Sans, sans-serif" font-size="2.6" fill="#777">0</text>
<line x1="33.8" y1="303.6" x2="35.8" y2="303.6" stroke="#888" stroke-width="0.8"/>
<rect x="36.5" y="265.3" width="10.699999999999996" height="18.3" fill="none" stroke="#888" stroke-width="0.8"/>
<line x1="36.5" y1="283.6" x2="47.199999999999996" y2="283.6" stroke="#aaa" stroke-width="0.6" stroke-dasharray="1 1"/>
<line x1="47.199999999999996" y1="283.6" x2="47.199999999999996" y2="303.6" stroke="#999" stroke-width="0.8"/>
<rect x="102.1" y="246.9" width="56.5" height="56.70000000000002" fill="none" stroke="#666" stroke-width="1"/>
<line x1="102.1" y1="303.6" x2="158.6" y2="303.6" stroke="#999" stroke-width="1.6" stroke-dasharray="0.6 2.2"/>
<line x1="102.1" y1="246.9" x2="102.1" y2="303.6" stroke="#999" stroke-width="1.6" stroke-dasharray="0.6 2.2"/>
<text x="93.6" y="248.3" font-family="Liberation Sans, sans-serif" font-size="3.8" fill="#444">10</text>
<text x="97.69999999999999" y="246.3" font-family="Liberation Sans, sans-serif" font-size="2.6" fill="#777">4</text>
<line x1="100.1" y1="246.9" x2="102.1" y2="246.9" stroke="#888" stroke-width="0.8"/>
<text x="93.6" y="262.47499999999997" font-family="Liberation Sans, sans-serif" font-size="3.8" fill="#444">10</text>
<text x="97.69999999999999" y="260.47499999999997" font-family="Liberation Sans, sans-serif" font-size="2.6" fill="#777">3</text>
<line x1="100.1" y1="261.075" x2="102.1" y2="261.075" stroke="#888" stroke-width="0.8"/>
<text x="93.6" y="276.65" font-family="Liberation Sans, sans-serif" font-size="3.8" fill="#444">10</text>
<text x="97.69999999999999" y="274.65" font-family="Liberation Sans, sans-serif" font-size="2.6" fill="#777">2</text>
<line x1="100.1" y1="275.25" x2="102.1" y2="275.25" stroke="#888" stroke-width="0.8"/>
<text x="93.6" y="290.825" font-family="Liberation Sans, sans-serif" font-size="3.8" fill="#444">10</text>
<text x="97.69999999999999" y="288.825" font-family="Liberation Sans, sans-serif" font-size="2.6" fill="#777">1</text>
<line x1="100.1" y1="289.425" x2="102.1" y2="289.425" stroke="#888" stroke-width="0.8"/>
<text x="93.6" y="305.0" font-family="Liberation Sans, sans-serif" font-size="3.8" fill="#444">10</text>
<text x="97.69999999999999" y="303.0" font-family="Liberation Sans, sans-serif" font-size="2.6" fill="#777">0</text>
<line x1="100.1" y1="303.6" x2="102.1" y2="303.6" stroke="#888" stroke-width="0.8"/>
<polyline points="102.1,265.1 113.5,265.1 113.5,303.6" fill="none" stroke="#888" stroke-width="0.9"/>
<rect x="168.2" y="246.9" width="57" height="56.70000000000002" fill="none" stroke="#666" stroke-width="1"/>
<line x1="168.2" y1="303.6" x2="225.2" y2="303.6" stroke="#999" stroke-width="1.6" stroke-dasharray="0.6 2.2"/>
<line x1="168.2" y1="246.9" x2="168.2" y2="303.6" stroke="#999" stroke-width="1.6" stroke-dasharray="0.6 2.2"/>
<text x="159.7" y="248.3" font-family="Liberation Sans, sans-serif" font-size="3.8" fill="#444">10</text>
<text x="163.79999999999998" y="246.3" font-family="Liberation Sans, sans-serif" font-size="2.6" fill="#777">4</text>
<line x1="166.2" y1="246.9" x2="168.2" y2="246.9" stroke="#888" stroke-width="0.8"/>
<text x="159.7" y="262.47499999999997" font-family="Liberation Sans, sans-serif" font-size="3.8" fill="#444">10</text>
<text x="163.79999999999998" y="260.47499999999997" font-family="Liberation Sans, sans-serif" font-size="2.6" fill="#777">3</text>
<line x1="166.2" y1="261.075" x2="168.2" y2="261.075" stroke="#888" stroke-width="0.8"/>
<text x="159.7" y="276.65" font-family="Liberation Sans, sans-serif" font-size="3.8" fill="#444">10</text>
<text x="163.79999999999998" y="274.65" font-family="Liberation Sans, sans-serif" font-size="2.6" fill="#777">2</text>
<line x1="166.2" y1="275.25" x2="168.2" y2="275.25" stroke="#888" stroke-width="0.8"/>
<text x="159.7" y="290.825" font-family="Liberation Sans, sans-serif" font-size="3.8" fill="#444">10</text>
<text x="163.79999999999998" y="288.825" font-family="Liberation Sans, sans-serif" font-size="2.6" fill="#777">1</text>
<line x1="166.2" y1="289.425" x2="168.2" y2="289.425" stroke="#888" stroke-width="0.8"/>
<text x="159.7" y="305.0" font-family="Liberation Sans, sans-serif" font-size="3.8" fill="#444">10</text>
<text x="163.79999999999998" y="303.0" font-family="Liberation Sans, sans-serif" font-size="2.6" fill="#777">0</text>
<line x1="166.2" y1="303.6" x2="168.2" y2="303.6" stroke="#888" stroke-width="0.8"/>
<polyline points="168.2,265.1 179.6,265.1 179.6,303.6" fill="none" stroke="#888" stroke-width="0.9"/>
<text class="t" x="38.8" y="275.4" font-family="Liberation Sans, sans-serif" font-size="8.9" font-weight="bold">S</text>
<text class="t" x="36.5" y="302.5" font-family="Liberation Sans, sans-serif" font-size="8.6" font-weight="bold">G1</text>
<circle cx="41.6" cy="291.1" r="0.4" fill="#999"/><circle cx="41.6" cy="288.5" r="0.4" fill="#999"/><circle cx="40.5" cy="288.8" r="0.4" fill="#999"/><circle cx="43.8" cy="290.9" r="0.4" fill="#999"/><circle cx="43.7" cy="290.3" r="0.4" fill="#999"/><circle cx="42.6" cy="290.1" r="0.4" fill="#999"/><circle cx="39.3" cy="292.2" r="0.4" fill="#999"/><circle cx="42.8" cy="291.1" r="0.4" fill="#999"/><circle cx="39.3" cy="283.9" r="0.4" fill="#999"/><circle cx="40.6" cy="288.0" r="0.4" fill="#999"/><circle cx="42.5" cy="289.4" r="0.4" fill="#999"/><circle cx="42.8" cy="287.4" r="0.4" fill="#999"/><circle cx="42.5" cy="290.8" r="0.4" fill="#999"/><circle cx="40.9" cy="295.0" r="0.4" fill="#999"/><circle cx="42.9" cy="293.3" r="0.4" fill="#999"/><circle cx="41.0" cy="287.1" r="0.4" fill="#999"/><circle cx="41.4" cy="289.2" r="0.4" fill="#999"/><circle cx="43.0" cy="290.3" r="0.4" fill="#999"/><circle cx="41.3" cy="286.4" r="0.4" fill="#999"/><circle cx="41.2" cy="293.4" r="0.4" fill="#999"/><circle cx="40.7" cy="290.3" r="0.4" fill="#999"/><circle cx="42.7" cy="284.7" r="0.4" fill="#999"/><circle cx="42.1" cy="293.7" r="0.4" fill="#999"/><circle cx="38.8" cy="288.5" r="0.4" fill="#999"/><circle cx="41.8" cy="286.9" r="0.4" fill="#999"/><circle cx="42.8" cy="289.3" r="0.4" fill="#999"/><circle cx="39.7" cy="292.1" r="0.4" fill="#999"/><circle cx="43.1" cy="292.5" r="0.4" fill="#999"/><circle cx="44.3" cy="290.7" r="0.4" fill="#999"/><circle cx="42.2" cy="285.3" r="0.4" fill="#999"/><circle cx="43.0" cy="287.5" r="0.4" fill="#999"/><circle cx="41.3" cy="285.5" r="0.4" fill="#999"/><circle cx="40.5" cy="287.8" r="0.4" fill="#999"/><circle cx="44.1" cy="283.0" r="0.4" fill="#999"/><circle cx="39.7" cy="290.3" r="0.4" fill="#999"/><circle cx="44.3" cy="291.4" r="0.4" fill="#999"/><circle cx="39.0" cy="281.4" r="0.4" fill="#999"/><circle cx="42.6" cy="287.1" r="0.4" fill="#999"/><circle cx="40.2" cy="292.6" r="0.4" fill="#999"/><circle cx="43.8" cy="290.0" r="0.4" fill="#999"/><circle cx="42.4" cy="290.9" r="0.4" fill="#999"/><circle cx="44.6" cy="291.5" r="0.4" fill="#999"/><circle cx="42.8" cy="291.3" r="0.4" fill="#999"/><circle cx="39.5" cy="293.6" r="0.4" fill="#999"/><circle cx="43.5" cy="291.2" r="0.4" fill="#999"/>
<circle cx="60.4" cy="271.8" r="0.6" fill="#bbb"/><circle cx="56.4" cy="288.0" r="0.6" fill="#bbb"/><circle cx="49.0" cy="290.0" r="0.6" fill="#bbb"/><circle cx="52.0" cy="286.0" r="0.6" fill="#bbb"/>
<circle cx="109.8" cy="280.8" r="0.43" fill="#606060"/><circle cx="105.6" cy="287.0" r="0.43" fill="#606060"/><circle cx="108.4" cy="286.5" r="0.43" fill="#606060"/><circle cx="104.3" cy="292.1" r="0.43" fill="#606060"/><circle cx="105.7" cy="289.6" r="0.43" fill="#606060"/><circle cx="103.9" cy="299.7" r="0.43" fill="#606060"/><circle cx="106.8" cy="286.9" r="0.43" fill="#606060"/><circle cx="107.9" cy="280.7" r="0.43" fill="#606060"/><circle cx="105.0" cy="277.6" r="0.43" fill="#606060"/><circle cx="111.3" cy="269.9" r="0.43" fill="#606060"/><circle cx="106.1" cy="285.9" r="0.43" fill="#606060"/><circle cx="103.2" cy="297.7" r="0.43" fill="#606060"/><circle cx="104.1" cy="290.9" r="0.43" fill="#606060"/><circle cx="103.1" cy="300.7" r="0.43" fill="#606060"/><circle cx="104.4" cy="297.0" r="0.43" fill="#606060"/><circle cx="105.4" cy="278.5" r="0.43" fill="#606060"/><circle cx="105.1" cy="289.2" r="0.43" fill="#606060"/><circle cx="112.6" cy="271.9" r="0.43" fill="#606060"/><circle cx="106.9" cy="282.9" r="0.43" fill="#606060"/><circle cx="105.1" cy="286.7" r="0.43" fill="#606060"/><circle cx="106.2" cy="274.3" r="0.43" fill="#606060"/><circle cx="105.2" cy="281.0" r="0.43" fill="#606060"/><circle cx="104.5" cy="277.8" r="0.43" fill="#606060"/><circle cx="110.4" cy="270.7" r="0.43" fill="#606060"/><circle cx="105.3" cy="290.0" r="0.43" fill="#606060"/><circle cx="109.0" cy="281.9" r="0.43" fill="#606060"/><circle cx="104.9" cy="287.9" r="0.43" fill="#606060"/><circle cx="111.2" cy="269.0" r="0.43" fill="#606060"/><circle cx="110.5" cy="272.5" r="0.43" fill="#606060"/><circle cx="104.0" cy="287.1" r="0.43" fill="#606060"/><circle cx="103.7" cy="298.5" r="0.43" fill="#606060"/><circle cx="108.9" cy="270.0" r="0.43" fill="#606060"/><circle cx="113.2" cy="270.0" r="0.43" fill="#606060"/><circle cx="104.5" cy="290.4" r="0.43" fill="#606060"/><circle cx="104.3" cy="290.1" r="0.43" fill="#606060"/><circle cx="108.6" cy="270.4" r="0.43" fill="#606060"/><circle cx="109.9" cy="278.2" r="0.43" fill="#606060"/><circle cx="111.4" cy="270.6" r="0.43" fill="#606060"/><circle cx="108.2" cy="275.0" r="0.43" fill="#606060"/><circle cx="107.8" cy="288.3" r="0.43" fill="#606060"/><circle cx="108.5" cy="266.5" r="0.43" fill="#606060"/><circle cx="105.9" cy="276.3" r="0.43" fill="#606060"/><circle cx="103.8" cy="295.5" r="0.43" fill="#606060"/><circle cx="106.4" cy="292.5" r="0.43" fill="#606060"/><circle cx="110.7" cy="267.4" r="0.43" fill="#606060"/><circle cx="103.3" cy="294.9" r="0.43" fill="#606060"/><circle cx="110.6" cy="266.2" r="0.43" fill="#606060"/><circle cx="108.9" cy="283.2" r="0.43" fill="#606060"/><circle cx="106.5" cy="272.2" r="0.43" fill="#606060"/><circle cx="106.1" cy="290.7" r="0.43" fill="#606060"/><circle cx="105.5" cy="290.6" r="0.43" fill="#606060"/><circle cx="106.2" cy="287.6" r="0.43" fill="#606060"/><circle cx="110.1" cy="277.3" r="0.43" fill="#606060"/><circle cx="107.4" cy="282.5" r="0.43" fill="#606060"/><circle cx="104.4" cy="280.3" r="0.43" fill="#606060"/><circle cx="104.9" cy="300.3" r="0.43" fill="#606060"/><circle cx="105.2" cy="292.2" r="0.43" fill="#606060"/><circle cx="106.3" cy="285.9" r="0.43" fill="#606060"/><circle cx="109.2" cy="280.8" r="0.43" fill="#606060"/><circle cx="104.8" cy="290.4" r="0.43" fill="#606060"/><circle cx="108.5" cy="272.3" r="0.43" fill="#606060"/><circle cx="108.7" cy="269.3" r="0.43" fill="#606060"/><circle cx="107.8" cy="276.8" r="0.43" fill="#606060"/><circle cx="107.1" cy="282.9" r="0.43" fill="#606060"/><circle cx="109.6" cy="281.6" r="0.43" fill="#606060"/><circle cx="107.3" cy="267.3" r="0.43" fill="#606060"/><circle cx="110.2" cy="280.0" r="0.43" fill="#606060"/><circle cx="104.8" cy="294.0" r="0.43" fill="#606060"/><circle cx="103.8" cy="297.7" r="0.43" fill="#606060"/><circle cx="111.5" cy="273.9" r="0.43" fill="#606060"/><circle cx="106.1" cy="292.8" r="0.43" fill="#606060"/><circle cx="112.6" cy="270.2" r="0.43" fill="#606060"/><circle cx="107.6" cy="289.9" r="0.43" fill="#606060"/><circle cx="112.2" cy="268.4" r="0.43" fill="#606060"/><circle cx="105.0" cy="292.0" r="0.43" fill="#606060"/><circle cx="104.7" cy="291.5" r="0.43" fill="#606060"/><circle cx="104.8" cy="274.2" r="0.43" fill="#606060"/><circle cx="103.7" cy="298.8" r="0.43" fill="#606060"/><circle cx="107.9" cy="280.3" r="0.43" fill="#606060"/><circle cx="112.0" cy="274.2" r="0.43" fill="#606060"/><circle cx="104.1" cy="296.6" r="0.43" fill="#606060"/><circle cx="104.2" cy="289.3" r="0.43" fill="#606060"/><circle cx="109.0" cy="284.2" r="0.43" fill="#606060"/><circle cx="106.8" cy="292.7" r="0.43" fill="#606060"/><circle cx="108.8" cy="279.7" r="0.43" fill="#606060"/><circle cx="107.6" cy="276.2" r="0.43" fill="#606060"/><circle cx="106.1" cy="295.4" r="0.43" fill="#606060"/><circle cx="106.0" cy="294.8" r="0.43" fill="#606060"/><circle cx="105.8" cy="295.9" r="0.43" fill="#606060"/><circle cx="110.1" cy="280.2" r="0.43" fill="#606060"/><circle cx="104.2" cy="288.3" r="0.43" fill="#606060"/><circle cx="103.7" cy="294.8" r="0.43" fill="#606060"/><circle cx="103.6" cy="297.2" r="0.43" fill="#606060"/><circle cx="106.9" cy="274.7" r="0.43" fill="#606060"/><circle cx="105.2" cy="281.4" r="0.43" fill="#606060"/><circle cx="103.6" cy="289.7" r="0.43" fill="#606060"/><circle cx="108.7" cy="275.1" r="0.43" fill="#606060"/><circle cx="106.0" cy="270.2" r="0.43" fill="#606060"/><circle cx="108.2" cy="270.7" r="0.43" fill="#606060"/><circle cx="106.6" cy="284.9" r="0.43" fill="#606060"/><circle cx="111.4" cy="275.1" r="0.43" fill="#606060"/><circle cx="109.1" cy="276.9" r="0.43" fill="#606060"/><circle cx="105.8" cy="284.9" r="0.43" fill="#606060"/><circle cx="105.5" cy="296.7" r="0.43" fill="#606060"/><circle cx="104.3" cy="290.9" r="0.43" fill="#606060"/><circle cx="110.3" cy="271.8" r="0.43" fill="#606060"/><circle cx="104.8" cy="288.2" r="0.43" fill="#606060"/><circle cx="105.0" cy="293.9" r="0.43" fill="#606060"/><circle cx="108.0" cy="290.3" r="0.43" fill="#606060"/><circle cx="107.9" cy="289.6" r="0.43" fill="#606060"/><circle cx="105.5" cy="288.5" r="0.43" fill="#606060"/><circle cx="107.0" cy="282.3" r="0.43" fill="#606060"/><circle cx="105.5" cy="292.1" r="0.43" fill="#606060"/><circle cx="104.5" cy="295.7" r="0.43" fill="#606060"/><circle cx="103.0" cy="297.7" r="0.43" fill="#606060"/><circle cx="107.8" cy="279.6" r="0.43" fill="#606060"/><circle cx="109.5" cy="273.9" r="0.43" fill="#606060"/><circle cx="105.7" cy="283.2" r="0.43" fill="#606060"/><circle cx="106.5" cy="267.7" r="0.43" fill="#606060"/><circle cx="105.5" cy="296.5" r="0.43" fill="#606060"/><circle cx="110.0" cy="270.2" r="0.43" fill="#606060"/><circle cx="105.2" cy="292.0" r="0.43" fill="#606060"/><circle cx="109.2" cy="282.0" r="0.43" fill="#606060"/><circle cx="110.1" cy="277.5" r="0.43" fill="#606060"/><circle cx="109.4" cy="276.2" r="0.43" fill="#606060"/><circle cx="104.6" cy="294.2" r="0.43" fill="#606060"/><circle cx="106.1" cy="293.9" r="0.43" fill="#606060"/><circle cx="109.0" cy="277.4" r="0.43" fill="#606060"/><circle cx="104.2" cy="282.3" r="0.43" fill="#606060"/><circle cx="107.4" cy="280.0" r="0.43" fill="#606060"/><circle cx="105.0" cy="276.8" r="0.43" fill="#606060"/><circle cx="103.9" cy="295.7" r="0.43" fill="#606060"/><circle cx="106.2" cy="274.7" r="0.43" fill="#606060"/><circle cx="106.4" cy="279.3" r="0.43" fill="#606060"/><circle cx="108.1" cy="282.3" r="0.43" fill="#606060"/><circle cx="105.0" cy="276.1" r="0.43" fill="#606060"/><circle cx="104.2" cy="293.3" r="0.43" fill="#606060"/><circle cx="104.4" cy="278.8" r="0.43" fill="#606060"/><circle cx="103.8" cy="296.3" r="0.43" fill="#606060"/><circle cx="106.6" cy="275.2" r="0.43" fill="#606060"/><circle cx="107.0" cy="280.6" r="0.43" fill="#606060"/><circle cx="106.7" cy="270.4" r="0.43" fill="#606060"/><circle cx="113.0" cy="269.1" r="0.43" fill="#606060"/><circle cx="112.2" cy="272.5" r="0.43" fill="#606060"/><circle cx="105.6" cy="283.6" r="0.43" fill="#606060"/><circle cx="105.9" cy="293.1" r="0.43" fill="#606060"/><circle cx="105.2" cy="294.0" r="0.43" fill="#606060"/><circle cx="108.8" cy="272.2" r="0.43" fill="#606060"/><circle cx="110.6" cy="270.7" r="0.43" fill="#606060"/><circle cx="104.3" cy="283.9" r="0.43" fill="#606060"/><circle cx="104.0" cy="299.4" r="0.43" fill="#606060"/><circle cx="104.6" cy="293.9" r="0.43" fill="#606060"/><circle cx="107.9" cy="288.9" r="0.43" fill="#606060"/><circle cx="105.9" cy="271.8" r="0.43" fill="#606060"/><circle cx="110.9" cy="270.1" r="0.43" fill="#606060"/><circle cx="105.9" cy="285.1" r="0.43" fill="#606060"/><circle cx="110.2" cy="266.9" r="0.43" fill="#606060"/><circle cx="103.9" cy="289.5" r="0.43" fill="#606060"/><circle cx="106.1" cy="294.7" r="0.43" fill="#606060"/><circle cx="104.8" cy="291.7" r="0.43" fill="#606060"/><circle cx="105.4" cy="279.6" r="0.43" fill="#606060"/><circle cx="111.4" cy="272.2" r="0.43" fill="#606060"/><circle cx="110.5" cy="278.7" r="0.43" fill="#606060"/><circle cx="105.0" cy="274.7" r="0.43" fill="#606060"/><circle cx="107.9" cy="274.8" r="0.43" fill="#606060"/><circle cx="103.9" cy="287.1" r="0.43" fill="#606060"/><circle cx="106.2" cy="268.6" r="0.43" fill="#606060"/><circle cx="107.2" cy="288.1" r="0.43" fill="#606060"/><circle cx="107.4" cy="267.7" r="0.43" fill="#606060"/><circle cx="106.8" cy="279.2" r="0.43" fill="#606060"/><circle cx="104.0" cy="293.1" r="0.43" fill="#606060"/><circle cx="105.5" cy="283.5" r="0.43" fill="#606060"/><circle cx="113.0" cy="269.5" r="0.43" fill="#606060"/><circle cx="103.8" cy="291.8" r="0.43" fill="#606060"/><circle cx="104.3" cy="286.6" r="0.43" fill="#606060"/><circle cx="109.9" cy="280.2" r="0.43" fill="#606060"/><circle cx="107.7" cy="273.4" r="0.43" fill="#606060"/><circle cx="105.7" cy="285.9" r="0.43" fill="#606060"/><circle cx="103.9" cy="297.4" r="0.43" fill="#606060"/><circle cx="107.9" cy="281.3" r="0.43" fill="#606060"/><circle cx="106.7" cy="271.1" r="0.43" fill="#606060"/><circle cx="106.3" cy="285.3" r="0.43" fill="#606060"/><circle cx="112.2" cy="268.9" r="0.43" fill="#606060"/><circle cx="105.0" cy="298.2" r="0.43" fill="#606060"/><circle cx="108.8" cy="270.3" r="0.43" fill="#606060"/><circle cx="108.9" cy="284.9" r="0.43" fill="#606060"/><circle cx="111.4" cy="272.9" r="0.43" fill="#606060"/><circle cx="103.7" cy="294.8" r="0.43" fill="#606060"/><circle cx="108.4" cy="282.2" r="0.43" fill="#606060"/><circle cx="109.7" cy="276.7" r="0.43" fill="#606060"/><circle cx="107.2" cy="284.4" r="0.43" fill="#606060"/><circle cx="107.6" cy="290.6" r="0.43" fill="#606060"/><circle cx="106.6" cy="277.7" r="0.43" fill="#606060"/><circle cx="109.1" cy="278.0" r="0.43" fill="#606060"/><circle cx="103.4" cy="293.6" r="0.43" fill="#606060"/><circle cx="105.1" cy="284.8" r="0.43" fill="#606060"/><circle cx="104.5" cy="278.2" r="0.43" fill="#606060"/><circle cx="110.5" cy="269.5" r="0.43" fill="#606060"/><circle cx="108.8" cy="270.7" r="0.43" fill="#606060"/><circle cx="111.0" cy="269.2" r="0.43" fill="#606060"/><circle cx="103.8" cy="286.3" r="0.43" fill="#606060"/><circle cx="105.4" cy="284.0" r="0.43" fill="#606060"/><circle cx="110.9" cy="276.7" r="0.43" fill="#606060"/><circle cx="105.9" cy="286.9" r="0.43" fill="#606060"/><circle cx="106.0" cy="276.6" r="0.43" fill="#606060"/><circle cx="105.4" cy="280.0" r="0.43" fill="#606060"/><circle cx="107.8" cy="268.6" r="0.43" fill="#606060"/><circle cx="106.8" cy="290.0" r="0.43" fill="#606060"/><circle cx="108.2" cy="287.5" r="0.43" fill="#606060"/><circle cx="105.3" cy="290.6" r="0.43" fill="#606060"/><circle cx="111.0" cy="277.2" r="0.43" fill="#606060"/><circle cx="107.6" cy="291.6" r="0.43" fill="#606060"/><circle cx="103.4" cy="294.4" r="0.43" fill="#606060"/><circle cx="112.1" cy="270.5" r="0.43" fill="#606060"/><circle cx="111.8" cy="275.5" r="0.43" fill="#606060"/><circle cx="107.2" cy="291.6" r="0.43" fill="#606060"/><circle cx="105.0" cy="273.9" r="0.43" fill="#606060"/><circle cx="105.6" cy="284.7" r="0.43" fill="#606060"/><circle cx="103.3" cy="292.4" r="0.43" fill="#606060"/><circle cx="106.2" cy="269.5" r="0.43" fill="#606060"/><circle cx="106.9" cy="267.4" r="0.43" fill="#606060"/><circle cx="108.2" cy="273.6" r="0.43" fill="#606060"/><circle cx="104.4" cy="296.1" r="0.43" fill="#606060"/><circle cx="104.9" cy="293.1" r="0.43" fill="#606060"/><circle cx="105.3" cy="268.9" r="0.43" fill="#606060"/><circle cx="105.1" cy="274.7" r="0.43" fill="#606060"/><circle cx="103.1" cy="298.9" r="0.43" fill="#606060"/><circle cx="111.2" cy="274.0" r="0.43" fill="#606060"/><circle cx="105.2" cy="287.8" r="0.43" fill="#606060"/><circle cx="106.9" cy="288.9" r="0.43" fill="#606060"/><circle cx="105.1" cy="288.9" r="0.43" fill="#606060"/><circle cx="110.2" cy="269.8" r="0.43" fill="#606060"/><circle cx="105.4" cy="269.1" r="0.43" fill="#606060"/><circle cx="113.0" cy="269.7" r="0.43" fill="#606060"/><circle cx="105.2" cy="284.1" r="0.43" fill="#606060"/><circle cx="106.6" cy="269.9" r="0.43" fill="#606060"/><circle cx="110.4" cy="273.5" r="0.43" fill="#606060"/><circle cx="106.6" cy="277.0" r="0.43" fill="#606060"/><circle cx="105.5" cy="287.3" r="0.43" fill="#606060"/><circle cx="106.6" cy="291.1" r="0.43" fill="#606060"/><circle cx="103.8" cy="290.8" r="0.43" fill="#606060"/><circle cx="108.6" cy="287.3" r="0.43" fill="#606060"/><circle cx="112.8" cy="270.6" r="0.43" fill="#606060"/><circle cx="104.8" cy="295.8" r="0.43" fill="#606060"/><circle cx="107.8" cy="275.5" r="0.43" fill="#606060"/><circle cx="108.9" cy="278.9" r="0.43" fill="#606060"/><circle cx="110.9" cy="274.1" r="0.43" fill="#606060"/><circle cx="107.2" cy="271.4" r="0.43" fill="#606060"/><circle cx="106.7" cy="279.5" r="0.43" fill="#606060"/><circle cx="104.7" cy="289.1" r="0.43" fill="#606060"/><circle cx="106.7" cy="292.4" r="0.43" fill="#606060"/><circle cx="109.3" cy="284.4" r="0.43" fill="#606060"/><circle cx="105.6" cy="281.8" r="0.43" fill="#606060"/><circle cx="106.1" cy="266.5" r="0.43" fill="#606060"/><circle cx="108.9" cy="283.4" r="0.43" fill="#606060"/><circle cx="103.8" cy="296.3" r="0.43" fill="#606060"/><circle cx="103.9" cy="295.7" r="0.43" fill="#606060"/><circle cx="108.2" cy="269.2" r="0.43" fill="#606060"/><circle cx="108.5" cy="271.0" r="0.43" fill="#606060"/><circle cx="106.0" cy="270.5" r="0.43" fill="#606060"/><circle cx="108.4" cy="278.9" r="0.43" fill="#606060"/><circle cx="104.0" cy="294.4" r="0.43" fill="#606060"/><circle cx="106.3" cy="289.1" r="0.43" fill="#606060"/><circle cx="103.7" cy="299.1" r="0.43" fill="#606060"/><circle cx="105.9" cy="276.1" r="0.43" fill="#606060"/><circle cx="108.9" cy="273.6" r="0.43" fill="#606060"/><circle cx="103.3" cy="296.0" r="0.43" fill="#606060"/><circle cx="105.1" cy="278.1" r="0.43" fill="#606060"/><circle cx="106.1" cy="292.1" r="0.43" fill="#606060"/><circle cx="108.3" cy="288.0" r="0.43" fill="#606060"/><circle cx="106.5" cy="286.9" r="0.43" fill="#606060"/><circle cx="112.7" cy="271.9" r="0.43" fill="#606060"/><circle cx="104.9" cy="285.7" r="0.43" fill="#606060"/><circle cx="105.2" cy="299.4" r="0.43" fill="#606060"/><circle cx="108.5" cy="282.3" r="0.43" fill="#606060"/><circle cx="105.0" cy="283.8" r="0.43" fill="#606060"/><circle cx="104.3" cy="298.1" r="0.43" fill="#606060"/><circle cx="105.2" cy="294.2" r="0.43" fill="#606060"/><circle cx="106.5" cy="286.0" r="0.43" fill="#606060"/><circle cx="109.8" cy="281.5" r="0.43" fill="#606060"/><circle cx="104.9" cy="295.7" r="0.43" fill="#606060"/><circle cx="103.9" cy="289.3" r="0.43" fill="#606060"/><circle cx="113.1" cy="268.7" r="0.43" fill="#606060"/><circle cx="108.3" cy="269.5" r="0.43" fill="#606060"/><circle cx="110.0" cy="270.3" r="0.43" fill="#606060"/><circle cx="106.5" cy="272.8" r="0.43" fill="#606060"/><circle cx="108.5" cy="284.8" r="0.43" fill="#606060"/><circle cx="105.2" cy="290.2" r="0.43" fill="#606060"/><circle cx="106.5" cy="281.5" r="0.43" fill="#606060"/><circle cx="111.1" cy="275.5" r="0.43" fill="#606060"/><circle cx="104.6" cy="297.9" r="0.43" fill="#606060"/><circle cx="105.9" cy="271.6" r="0.43" fill="#606060"/><circle cx="108.0" cy="278.0" r="0.43" fill="#606060"/><circle cx="107.2" cy="283.5" r="0.43" fill="#606060"/><circle cx="107.7" cy="282.9" r="0.43" fill="#606060"/><circle cx="104.6" cy="299.2" r="0.43" fill="#606060"/><circle cx="105.6" cy="282.0" r="0.43" fill="#606060"/><circle cx="105.1" cy="281.3" r="0.43" fill="#606060"/><circle cx="104.7" cy="283.0" r="0.43" fill="#606060"/><circle cx="104.6" cy="296.3" r="0.43" fill="#606060"/><circle cx="104.5" cy="281.0" r="0.43" fill="#606060"/><circle cx="110.3" cy="274.5" r="0.43" fill="#606060"/><circle cx="104.5" cy="280.3" r="0.43" fill="#606060"/><circle cx="106.3" cy="268.8" r="0.43" fill="#606060"/><circle cx="112.7" cy="271.1" r="0.43" fill="#606060"/><circle cx="107.5" cy="290.0" r="0.43" fill="#606060"/><circle cx="109.8" cy="282.3" r="0.43" fill="#606060"/><circle cx="111.7" cy="272.9" r="0.43" fill="#606060"/><circle cx="104.1" cy="296.8" r="0.43" fill="#606060"/><circle cx="107.3" cy="269.7" r="0.43" fill="#606060"/><circle cx="106.0" cy="270.4" r="0.43" fill="#606060"/><circle cx="104.6" cy="291.1" r="0.43" fill="#606060"/><circle cx="106.1" cy="281.9" r="0.43" fill="#606060"/><circle cx="107.0" cy="293.0" r="0.43" fill="#606060"/><circle cx="110.8" cy="277.0" r="0.43" fill="#606060"/><circle cx="105.1" cy="296.0" r="0.43" fill="#606060"/><circle cx="106.9" cy="278.3" r="0.43" fill="#606060"/><circle cx="110.0" cy="278.3" r="0.43" fill="#606060"/><circle cx="106.7" cy="294.5" r="0.43" fill="#606060"/><circle cx="106.8" cy="272.3" r="0.43" fill="#606060"/><circle cx="110.1" cy="266.8" r="0.43" fill="#606060"/><circle cx="105.0" cy="284.5" r="0.43" fill="#606060"/><circle cx="105.1" cy="274.8" r="0.43" fill="#606060"/><circle cx="111.1" cy="276.8" r="0.43" fill="#606060"/><circle cx="108.6" cy="279.0" r="0.43" fill="#606060"/><circle cx="103.3" cy="298.4" r="0.43" fill="#606060"/><circle cx="107.3" cy="276.2" r="0.43" fill="#606060"/><circle cx="104.1" cy="293.8" r="0.43" fill="#606060"/><circle cx="104.7" cy="277.9" r="0.43" fill="#606060"/><circle cx="104.4" cy="295.0" r="0.43" fill="#606060"/><circle cx="110.7" cy="264.8" r="0.43" fill="#606060"/><circle cx="110.5" cy="266.0" r="0.43" fill="#606060"/><circle cx="115.5" cy="266.3" r="0.43" fill="#606060"/><circle cx="119.2" cy="267.7" r="0.43" fill="#606060"/><circle cx="110.9" cy="268.1" r="0.43" fill="#606060"/><circle cx="115.7" cy="268.3" r="0.43" fill="#606060"/><circle cx="118.5" cy="268.0" r="0.43" fill="#606060"/><circle cx="111.2" cy="265.2" r="0.43" fill="#606060"/><circle cx="108.1" cy="265.7" r="0.43" fill="#606060"/><circle cx="112.2" cy="265.2" r="0.43" fill="#606060"/><circle cx="115.7" cy="262.4" r="0.43" fill="#606060"/><circle cx="116.8" cy="269.4" r="0.43" fill="#606060"/><circle cx="111.0" cy="268.1" r="0.43" fill="#606060"/><circle cx="114.4" cy="267.1" r="0.43" fill="#606060"/><circle cx="112.9" cy="267.6" r="0.43" fill="#606060"/><circle cx="117.3" cy="268.3" r="0.43" fill="#606060"/><circle cx="108.1" cy="262.3" r="0.43" fill="#606060"/><circle cx="109.7" cy="265.8" r="0.43" fill="#606060"/><circle cx="110.4" cy="265.4" r="0.43" fill="#606060"/><circle cx="115.7" cy="265.8" r="0.43" fill="#606060"/><circle cx="117.8" cy="268.4" r="0.43" fill="#606060"/><circle cx="111.6" cy="269.3" r="0.43" fill="#606060"/><circle cx="108.6" cy="270.6" r="0.43" fill="#606060"/><circle cx="116.6" cy="264.9" r="0.43" fill="#606060"/><circle cx="108.1" cy="269.6" r="0.43" fill="#606060"/><circle cx="113.6" cy="264.3" r="0.43" fill="#606060"/><circle cx="116.9" cy="265.9" r="0.43" fill="#606060"/><circle cx="109.3" cy="268.0" r="0.43" fill="#606060"/><circle cx="110.8" cy="269.5" r="0.43" fill="#606060"/><circle cx="117.0" cy="268.0" r="0.43" fill="#606060"/><circle cx="116.3" cy="269.5" r="0.43" fill="#606060"/><circle cx="111.2" cy="264.5" r="0.43" fill="#606060"/><circle cx="114.6" cy="263.8" r="0.43" fill="#606060"/><circle cx="114.3" cy="269.1" r="0.43" fill="#606060"/><circle cx="111.2" cy="263.8" r="0.43" fill="#606060"/><circle cx="110.6" cy="262.9" r="0.43" fill="#606060"/><circle cx="118.6" cy="269.3" r="0.43" fill="#606060"/><circle cx="110.8" cy="267.7" r="0.43" fill="#606060"/><circle cx="116.9" cy="271.1" r="0.43" fill="#606060"/><circle cx="111.9" cy="266.2" r="0.43" fill="#606060"/><circle cx="118.6" cy="266.7" r="0.43" fill="#606060"/><circle cx="118.9" cy="269.0" r="0.43" fill="#606060"/><circle cx="115.6" cy="266.3" r="0.43" fill="#606060"/><circle cx="119.7" cy="264.3" r="0.43" fill="#606060"/><circle cx="113.6" cy="269.4" r="0.43" fill="#606060"/><circle cx="124.1" cy="273.6" r="0.43" fill="#606060"/><circle cx="122.4" cy="276.5" r="0.43" fill="#606060"/><circle cx="117.0" cy="268.7" r="0.43" fill="#606060"/><circle cx="121.1" cy="265.7" r="0.43" fill="#606060"/><circle cx="124.8" cy="267.2" r="0.43" fill="#606060"/><circle cx="113.3" cy="266.3" r="0.43" fill="#606060"/><circle cx="125.1" cy="271.6" r="0.43" fill="#606060"/><circle cx="114.8" cy="264.6" r="0.43" fill="#606060"/><circle cx="113.5" cy="279.2" r="0.43" fill="#606060"/><circle cx="121.2" cy="279.3" r="0.43" fill="#606060"/><circle cx="122.6" cy="265.4" r="0.43" fill="#606060"/><circle cx="120.7" cy="272.0" r="0.43" fill="#606060"/><circle cx="123.6" cy="282.0" r="0.43" fill="#606060"/><circle cx="124.6" cy="265.5" r="0.43" fill="#606060"/><circle cx="124.3" cy="284.1" r="0.43" fill="#606060"/><circle cx="125.3" cy="266.4" r="0.43" fill="#606060"/><circle cx="115.7" cy="266.5" r="0.43" fill="#606060"/><circle cx="113.4" cy="282.6" r="0.43" fill="#606060"/>
<circle cx="128.9" cy="281.2" r="0.45" fill="#aaa"/><circle cx="129.1" cy="281.2" r="0.45" fill="#aaa"/><circle cx="123.2" cy="268.4" r="0.45" fill="#aaa"/><circle cx="121.1" cy="284.2" r="0.45" fill="#aaa"/><circle cx="122.3" cy="273.7" r="0.45" fill="#aaa"/><circle cx="124.7" cy="266.5" r="0.45" fill="#aaa"/><circle cx="122.8" cy="272.8" r="0.45" fill="#aaa"/><circle cx="127.9" cy="274.8" r="0.45" fill="#aaa"/>
<line x1="133.5" y1="277.3" x2="141" y2="276.3" stroke="#ccc" stroke-width="1"/>
<circle cx="128.0" cy="279.0" r="0.5" fill="#bbb"/><circle cx="126.0" cy="272.0" r="0.5" fill="#bbb"/><circle cx="131.0" cy="283.0" r="0.5" fill="#bbb"/><circle cx="136.0" cy="274.0" r="0.5" fill="#bbb"/>
<circle cx="175.8" cy="283.1" r="0.43" fill="#606060"/><circle cx="176.7" cy="279.6" r="0.43" fill="#606060"/><circle cx="173.4" cy="281.8" r="0.43" fill="#606060"/><circle cx="174.5" cy="273.4" r="0.43" fill="#606060"/><circle cx="174.3" cy="285.9" r="0.43" fill="#606060"/><circle cx="172.8" cy="290.8" r="0.43" fill="#606060"/><circle cx="173.6" cy="287.4" r="0.43" fill="#606060"/><circle cx="172.2" cy="268.4" r="0.43" fill="#606060"/><circle cx="173.3" cy="273.3" r="0.43" fill="#606060"/><circle cx="173.2" cy="280.3" r="0.43" fill="#606060"/><circle cx="174.7" cy="269.5" r="0.43" fill="#606060"/><circle cx="173.5" cy="286.6" r="0.43" fill="#606060"/><circle cx="171.9" cy="276.7" r="0.43" fill="#606060"/><circle cx="177.6" cy="273.7" r="0.43" fill="#606060"/><circle cx="172.8" cy="282.1" r="0.43" fill="#606060"/><circle cx="176.0" cy="284.0" r="0.43" fill="#606060"/><circle cx="170.0" cy="294.1" r="0.43" fill="#606060"/><circle cx="174.9" cy="284.9" r="0.43" fill="#606060"/><circle cx="174.0" cy="271.4" r="0.43" fill="#606060"/><circle cx="174.3" cy="280.8" r="0.43" fill="#606060"/><circle cx="174.0" cy="275.0" r="0.43" fill="#606060"/><circle cx="171.3" cy="284.8" r="0.43" fill="#606060"/><circle cx="172.9" cy="273.3" r="0.43" fill="#606060"/><circle cx="175.7" cy="280.9" r="0.43" fill="#606060"/><circle cx="176.6" cy="280.5" r="0.43" fill="#606060"/><circle cx="171.1" cy="286.0" r="0.43" fill="#606060"/><circle cx="173.2" cy="273.6" r="0.43" fill="#606060"/><circle cx="170.9" cy="288.2" r="0.43" fill="#606060"/><circle cx="171.3" cy="289.6" r="0.43" fill="#606060"/><circle cx="174.5" cy="287.7" r="0.43" fill="#606060"/><circle cx="173.1" cy="269.4" r="0.43" fill="#606060"/><circle cx="176.5" cy="283.0" r="0.43" fill="#606060"/><circle cx="171.9" cy="280.0" r="0.43" fill="#606060"/><circle cx="172.1" cy="276.9" r="0.43" fill="#606060"/><circle cx="170.7" cy="293.7" r="0.43" fill="#606060"/><circle cx="177.5" cy="272.1" r="0.43" fill="#606060"/><circle cx="171.7" cy="280.7" r="0.43" fill="#606060"/><circle cx="174.2" cy="277.4" r="0.43" fill="#606060"/><circle cx="174.3" cy="279.6" r="0.43" fill="#606060"/><circle cx="175.0" cy="274.5" r="0.43" fill="#606060"/><circle cx="178.8" cy="272.9" r="0.43" fill="#606060"/><circle cx="178.2" cy="274.8" r="0.43" fill="#606060"/><circle cx="172.8" cy="279.8" r="0.43" fill="#606060"/><circle cx="172.0" cy="275.5" r="0.43" fill="#606060"/><circle cx="176.5" cy="275.8" r="0.43" fill="#606060"/><circle cx="172.3" cy="284.9" r="0.43" fill="#606060"/><circle cx="174.8" cy="282.4" r="0.43" fill="#606060"/><circle cx="173.7" cy="269.6" r="0.43" fill="#606060"/><circle cx="173.5" cy="281.2" r="0.43" fill="#606060"/><circle cx="172.5" cy="269.0" r="0.43" fill="#606060"/><circle cx="179.6" cy="273.4" r="0.43" fill="#606060"/><circle cx="171.6" cy="278.4" r="0.43" fill="#606060"/><circle cx="175.6" cy="274.4" r="0.43" fill="#606060"/><circle cx="177.6" cy="275.8" r="0.43" fill="#606060"/><circle cx="174.0" cy="269.9" r="0.43" fill="#606060"/><circle cx="174.5" cy="275.7" r="0.43" fill="#606060"/><circle cx="175.5" cy="268.9" r="0.43" fill="#606060"/><circle cx="170.4" cy="291.8" r="0.43" fill="#606060"/><circle cx="173.3" cy="281.9" r="0.43" fill="#606060"/><circle cx="174.2" cy="275.3" r="0.43" fill="#606060"/><circle cx="179.2" cy="275.1" r="0.43" fill="#606060"/><circle cx="172.5" cy="279.5" r="0.43" fill="#606060"/><circle cx="170.6" cy="286.3" r="0.43" fill="#606060"/><circle cx="178.4" cy="273.0" r="0.43" fill="#606060"/><circle cx="172.7" cy="277.7" r="0.43" fill="#606060"/><circle cx="175.4" cy="268.7" r="0.43" fill="#606060"/><circle cx="175.8" cy="271.6" r="0.43" fill="#606060"/><circle cx="173.3" cy="286.1" r="0.43" fill="#606060"/><circle cx="175.5" cy="284.6" r="0.43" fill="#606060"/><circle cx="172.2" cy="285.6" r="0.43" fill="#606060"/><circle cx="169.9" cy="288.8" r="0.43" fill="#606060"/><circle cx="173.8" cy="274.9" r="0.43" fill="#606060"/><circle cx="173.7" cy="281.1" r="0.43" fill="#606060"/><circle cx="176.3" cy="275.4" r="0.43" fill="#606060"/><circle cx="172.3" cy="273.6" r="0.43" fill="#606060"/><circle cx="179.6" cy="272.7" r="0.43" fill="#606060"/><circle cx="177.3" cy="272.0" r="0.43" fill="#606060"/><circle cx="169.2" cy="294.9" r="0.43" fill="#606060"/><circle cx="170.6" cy="285.7" r="0.43" fill="#606060"/><circle cx="170.8" cy="289.3" r="0.43" fill="#606060"/><circle cx="173.8" cy="288.0" r="0.43" fill="#606060"/><circle cx="173.1" cy="274.3" r="0.43" fill="#606060"/><circle cx="177.3" cy="272.8" r="0.43" fill="#606060"/><circle cx="179.1" cy="271.5" r="0.43" fill="#606060"/><circle cx="175.6" cy="275.0" r="0.43" fill="#606060"/><circle cx="175.1" cy="275.3" r="0.43" fill="#606060"/><circle cx="171.4" cy="284.9" r="0.43" fill="#606060"/><circle cx="171.9" cy="290.2" r="0.43" fill="#606060"/><circle cx="171.9" cy="289.4" r="0.43" fill="#606060"/><circle cx="174.5" cy="280.0" r="0.43" fill="#606060"/><circle cx="175.9" cy="272.2" r="0.43" fill="#606060"/><circle cx="175.8" cy="278.9" r="0.43" fill="#606060"/><circle cx="176.7" cy="281.1" r="0.43" fill="#606060"/><circle cx="171.9" cy="291.1" r="0.43" fill="#606060"/><circle cx="176.3" cy="277.2" r="0.43" fill="#606060"/><circle cx="175.1" cy="271.5" r="0.43" fill="#606060"/><circle cx="176.8" cy="280.1" r="0.43" fill="#606060"/><circle cx="171.8" cy="292.2" r="0.43" fill="#606060"/><circle cx="175.1" cy="271.3" r="0.43" fill="#606060"/><circle cx="174.3" cy="280.5" r="0.43" fill="#606060"/><circle cx="173.4" cy="280.8" r="0.43" fill="#606060"/><circle cx="176.9" cy="278.2" r="0.43" fill="#606060"/><circle cx="173.7" cy="283.8" r="0.43" fill="#606060"/><circle cx="172.9" cy="286.8" r="0.43" fill="#606060"/><circle cx="174.5" cy="273.1" r="0.43" fill="#606060"/><circle cx="172.0" cy="283.2" r="0.43" fill="#606060"/><circle cx="172.0" cy="272.8" r="0.43" fill="#606060"/><circle cx="178.7" cy="274.6" r="0.43" fill="#606060"/><circle cx="170.3" cy="284.7" r="0.43" fill="#606060"/><circle cx="174.3" cy="286.7" r="0.43" fill="#606060"/><circle cx="179.4" cy="272.6" r="0.43" fill="#606060"/><circle cx="175.8" cy="276.3" r="0.43" fill="#606060"/><circle cx="176.2" cy="276.6" r="0.43" fill="#606060"/><circle cx="173.3" cy="285.6" r="0.43" fill="#606060"/><circle cx="170.3" cy="290.8" r="0.43" fill="#606060"/><circle cx="172.0" cy="293.8" r="0.43" fill="#606060"/><circle cx="175.4" cy="282.3" r="0.43" fill="#606060"/><circle cx="176.4" cy="273.4" r="0.43" fill="#606060"/><circle cx="172.7" cy="282.5" r="0.43" fill="#606060"/><circle cx="174.8" cy="281.8" r="0.43" fill="#606060"/><circle cx="171.4" cy="278.2" r="0.43" fill="#606060"/><circle cx="173.1" cy="288.1" r="0.43" fill="#606060"/><circle cx="170.8" cy="280.2" r="0.43" fill="#606060"/><circle cx="174.2" cy="284.9" r="0.43" fill="#606060"/><circle cx="173.5" cy="279.5" r="0.43" fill="#606060"/><circle cx="172.2" cy="290.5" r="0.43" fill="#606060"/><circle cx="169.2" cy="294.1" r="0.43" fill="#606060"/><circle cx="172.3" cy="276.1" r="0.43" fill="#606060"/><circle cx="173.0" cy="271.6" r="0.43" fill="#606060"/><circle cx="171.6" cy="293.6" r="0.43" fill="#606060"/><circle cx="170.1" cy="289.3" r="0.43" fill="#606060"/><circle cx="177.6" cy="274.6" r="0.43" fill="#606060"/><circle cx="172.0" cy="289.8" r="0.43" fill="#606060"/><circle cx="175.1" cy="275.8" r="0.43" fill="#606060"/><circle cx="178.9" cy="269.4" r="0.43" fill="#606060"/><circle cx="169.2" cy="292.8" r="0.43" fill="#606060"/><circle cx="170.7" cy="289.8" r="0.43" fill="#606060"/><circle cx="172.9" cy="275.4" r="0.43" fill="#606060"/><circle cx="170.8" cy="291.0" r="0.43" fill="#606060"/><circle cx="174.3" cy="277.9" r="0.43" fill="#606060"/><circle cx="174.8" cy="272.8" r="0.43" fill="#606060"/><circle cx="176.1" cy="275.8" r="0.43" fill="#606060"/><circle cx="179.6" cy="273.9" r="0.43" fill="#606060"/><circle cx="176.4" cy="273.4" r="0.43" fill="#606060"/><circle cx="178.8" cy="269.8" r="0.43" fill="#606060"/><circle cx="174.6" cy="270.6" r="0.43" fill="#606060"/><circle cx="177.0" cy="271.0" r="0.43" fill="#606060"/><circle cx="172.7" cy="285.2" r="0.43" fill="#606060"/><circle cx="176.1" cy="275.1" r="0.43" fill="#606060"/><circle cx="179.2" cy="271.1" r="0.43" fill="#606060"/><circle cx="172.4" cy="285.8" r="0.43" fill="#606060"/><circle cx="177.1" cy="278.1" r="0.43" fill="#606060"/><circle cx="178.8" cy="272.3" r="0.43" fill="#606060"/><circle cx="176.9" cy="271.5" r="0.43" fill="#606060"/><circle cx="177.6" cy="274.8" r="0.43" fill="#606060"/><circle cx="175.2" cy="271.8" r="0.43" fill="#606060"/><circle cx="173.4" cy="273.8" r="0.43" fill="#606060"/><circle cx="179.2" cy="274.4" r="0.43" fill="#606060"/><circle cx="175.0" cy="277.0" r="0.43" fill="#606060"/><circle cx="171.2" cy="287.3" r="0.43" fill="#606060"/><circle cx="171.3" cy="279.2" r="0.43" fill="#606060"/><circle cx="178.3" cy="273.2" r="0.43" fill="#606060"/><circle cx="180.0" cy="272.3" r="0.43" fill="#606060"/><circle cx="174.2" cy="278.9" r="0.43" fill="#606060"/><circle cx="170.8" cy="287.4" r="0.43" fill="#606060"/><circle cx="174.3" cy="274.5" r="0.43" fill="#606060"/><circle cx="172.0" cy="279.1" r="0.43" fill="#606060"/><circle cx="172.9" cy="292.1" r="0.43" fill="#606060"/><circle cx="177.2" cy="277.1" r="0.43" fill="#606060"/><circle cx="172.5" cy="288.1" r="0.43" fill="#606060"/><circle cx="169.3" cy="294.3" r="0.43" fill="#606060"/><circle cx="180.4" cy="268.0" r="0.43" fill="#606060"/><circle cx="174.3" cy="285.9" r="0.43" fill="#606060"/><circle cx="176.7" cy="281.8" r="0.43" fill="#606060"/><circle cx="174.5" cy="268.1" r="0.43" fill="#606060"/><circle cx="170.0" cy="292.8" r="0.43" fill="#606060"/><circle cx="171.4" cy="292.5" r="0.43" fill="#606060"/><circle cx="176.0" cy="273.5" r="0.43" fill="#606060"/><circle cx="171.7" cy="291.0" r="0.43" fill="#606060"/><circle cx="171.3" cy="283.0" r="0.43" fill="#606060"/><circle cx="175.7" cy="278.2" r="0.43" fill="#606060"/><circle cx="178.4" cy="269.1" r="0.43" fill="#606060"/><circle cx="174.2" cy="289.2" r="0.43" fill="#606060"/><circle cx="174.3" cy="269.8" r="0.43" fill="#606060"/><circle cx="175.7" cy="283.6" r="0.43" fill="#606060"/><circle cx="179.6" cy="272.5" r="0.43" fill="#606060"/><circle cx="176.6" cy="275.6" r="0.43" fill="#606060"/><circle cx="172.7" cy="270.2" r="0.43" fill="#606060"/><circle cx="178.3" cy="271.4" r="0.43" fill="#606060"/><circle cx="173.5" cy="284.8" r="0.43" fill="#606060"/><circle cx="171.8" cy="283.7" r="0.43" fill="#606060"/><circle cx="171.7" cy="290.0" r="0.43" fill="#606060"/><circle cx="172.7" cy="289.7" r="0.43" fill="#606060"/><circle cx="171.5" cy="293.8" r="0.43" fill="#606060"/><circle cx="174.1" cy="270.7" r="0.43" fill="#606060"/><circle cx="180.1" cy="270.7" r="0.43" fill="#606060"/><circle cx="171.4" cy="280.8" r="0.43" fill="#606060"/><circle cx="179.8" cy="269.8" r="0.43" fill="#606060"/><circle cx="175.2" cy="283.0" r="0.43" fill="#606060"/><circle cx="175.0" cy="280.8" r="0.43" fill="#606060"/><circle cx="172.0" cy="292.4" r="0.43" fill="#606060"/><circle cx="172.1" cy="279.1" r="0.43" fill="#606060"/><circle cx="171.6" cy="281.4" r="0.43" fill="#606060"/><circle cx="174.7" cy="285.2" r="0.43" fill="#606060"/><circle cx="173.0" cy="280.5" r="0.43" fill="#606060"/><circle cx="173.0" cy="271.3" r="0.43" fill="#606060"/><circle cx="178.0" cy="271.1" r="0.43" fill="#606060"/><circle cx="172.3" cy="287.0" r="0.43" fill="#606060"/><circle cx="171.7" cy="288.1" r="0.43" fill="#606060"/><circle cx="181.7" cy="269.5" r="0.43" fill="#606060"/><circle cx="175.1" cy="284.9" r="0.43" fill="#606060"/><circle cx="172.1" cy="291.2" r="0.43" fill="#606060"/><circle cx="171.8" cy="296.0" r="0.43" fill="#606060"/><circle cx="171.2" cy="285.4" r="0.43" fill="#606060"/><circle cx="172.2" cy="279.3" r="0.43" fill="#606060"/><circle cx="176.5" cy="281.6" r="0.43" fill="#606060"/><circle cx="170.5" cy="290.4" r="0.43" fill="#606060"/><circle cx="177.6" cy="273.9" r="0.43" fill="#606060"/><circle cx="171.9" cy="291.2" r="0.43" fill="#606060"/><circle cx="172.7" cy="280.3" r="0.43" fill="#606060"/><circle cx="177.9" cy="276.4" r="0.43" fill="#606060"/><circle cx="172.6" cy="279.3" r="0.43" fill="#606060"/><circle cx="175.1" cy="282.6" r="0.43" fill="#606060"/><circle cx="172.4" cy="291.1" r="0.43" fill="#606060"/><circle cx="176.2" cy="273.3" r="0.43" fill="#606060"/><circle cx="172.2" cy="291.8" r="0.43" fill="#606060"/><circle cx="171.2" cy="285.9" r="0.43" fill="#606060"/><circle cx="175.0" cy="272.9" r="0.43" fill="#606060"/><circle cx="171.2" cy="278.4" r="0.43" fill="#606060"/><circle cx="174.0" cy="278.9" r="0.43" fill="#606060"/><circle cx="178.0" cy="275.0" r="0.43" fill="#606060"/><circle cx="174.7" cy="271.6" r="0.43" fill="#606060"/><circle cx="172.1" cy="273.4" r="0.43" fill="#606060"/><circle cx="180.4" cy="270.6" r="0.43" fill="#606060"/><circle cx="174.7" cy="279.2" r="0.43" fill="#606060"/><circle cx="172.4" cy="293.4" r="0.43" fill="#606060"/><circle cx="170.6" cy="290.9" r="0.43" fill="#606060"/><circle cx="172.0" cy="273.9" r="0.43" fill="#606060"/><circle cx="170.0" cy="288.4" r="0.43" fill="#606060"/><circle cx="175.4" cy="276.2" r="0.43" fill="#606060"/><circle cx="173.1" cy="290.2" r="0.43" fill="#606060"/><circle cx="171.8" cy="275.7" r="0.43" fill="#606060"/><circle cx="172.8" cy="280.6" r="0.43" fill="#606060"/><circle cx="171.4" cy="290.5" r="0.43" fill="#606060"/><circle cx="173.2" cy="272.8" r="0.43" fill="#606060"/><circle cx="176.5" cy="279.0" r="0.43" fill="#606060"/><circle cx="175.6" cy="271.7" r="0.43" fill="#606060"/><circle cx="175.9" cy="280.9" r="0.43" fill="#606060"/><circle cx="179.3" cy="270.1" r="0.43" fill="#606060"/><circle cx="171.8" cy="283.3" r="0.43" fill="#606060"/><circle cx="179.8" cy="270.2" r="0.43" fill="#606060"/><circle cx="179.4" cy="271.0" r="0.43" fill="#606060"/><circle cx="177.5" cy="279.2" r="0.43" fill="#606060"/><circle cx="174.3" cy="269.2" r="0.43" fill="#606060"/><circle cx="173.6" cy="283.7" r="0.43" fill="#606060"/><circle cx="171.1" cy="291.3" r="0.43" fill="#606060"/><circle cx="174.0" cy="289.2" r="0.43" fill="#606060"/><circle cx="179.5" cy="272.6" r="0.43" fill="#606060"/><circle cx="179.9" cy="270.2" r="0.43" fill="#606060"/><circle cx="171.5" cy="292.6" r="0.43" fill="#606060"/><circle cx="173.1" cy="286.8" r="0.43" fill="#606060"/><circle cx="177.7" cy="270.6" r="0.43" fill="#606060"/><circle cx="176.8" cy="282.5" r="0.43" fill="#606060"/><circle cx="171.9" cy="284.8" r="0.43" fill="#606060"/><circle cx="178.2" cy="277.3" r="0.43" fill="#606060"/><circle cx="172.8" cy="278.4" r="0.43" fill="#606060"/><circle cx="170.3" cy="289.2" r="0.43" fill="#606060"/><circle cx="171.0" cy="288.9" r="0.43" fill="#606060"/><circle cx="170.6" cy="286.7" r="0.43" fill="#606060"/><circle cx="176.9" cy="277.9" r="0.43" fill="#606060"/><circle cx="172.8" cy="275.7" r="0.43" fill="#606060"/><circle cx="175.2" cy="273.9" r="0.43" fill="#606060"/><circle cx="172.8" cy="280.2" r="0.43" fill="#606060"/><circle cx="171.2" cy="285.4" r="0.43" fill="#606060"/><circle cx="171.2" cy="277.8" r="0.43" fill="#606060"/><circle cx="175.5" cy="283.5" r="0.43" fill="#606060"/><circle cx="172.8" cy="281.2" r="0.43" fill="#606060"/><circle cx="175.0" cy="269.3" r="0.43" fill="#606060"/><circle cx="172.7" cy="291.0" r="0.43" fill="#606060"/><circle cx="171.1" cy="280.5" r="0.43" fill="#606060"/><circle cx="172.4" cy="275.2" r="0.43" fill="#606060"/><circle cx="174.8" cy="286.7" r="0.43" fill="#606060"/><circle cx="172.4" cy="283.3" r="0.43" fill="#606060"/><circle cx="176.2" cy="276.9" r="0.43" fill="#606060"/><circle cx="176.0" cy="278.1" r="0.43" fill="#606060"/><circle cx="177.8" cy="272.8" r="0.43" fill="#606060"/><circle cx="178.8" cy="275.4" r="0.43" fill="#606060"/><circle cx="173.4" cy="291.1" r="0.43" fill="#606060"/><circle cx="174.8" cy="277.9" r="0.43" fill="#606060"/><circle cx="177.5" cy="268.4" r="0.43" fill="#606060"/><circle cx="177.3" cy="272.4" r="0.43" fill="#606060"/><circle cx="173.3" cy="281.4" r="0.43" fill="#606060"/><circle cx="172.4" cy="285.3" r="0.43" fill="#606060"/><circle cx="173.8" cy="277.9" r="0.43" fill="#606060"/><circle cx="176.2" cy="273.5" r="0.43" fill="#606060"/><circle cx="171.9" cy="281.0" r="0.43" fill="#606060"/><circle cx="175.3" cy="278.6" r="0.43" fill="#606060"/><circle cx="173.2" cy="290.1" r="0.43" fill="#606060"/><circle cx="180.2" cy="273.9" r="0.43" fill="#606060"/><circle cx="172.0" cy="287.5" r="0.43" fill="#606060"/><circle cx="171.4" cy="292.2" r="0.43" fill="#606060"/><circle cx="177.1" cy="280.1" r="0.43" fill="#606060"/><circle cx="177.2" cy="267.9" r="0.43" fill="#606060"/><circle cx="175.7" cy="278.8" r="0.43" fill="#606060"/><circle cx="173.7" cy="278.2" r="0.43" fill="#606060"/><circle cx="178.4" cy="269.7" r="0.43" fill="#606060"/><circle cx="172.9" cy="282.8" r="0.43" fill="#606060"/><circle cx="175.2" cy="280.1" r="0.43" fill="#606060"/><circle cx="173.8" cy="278.6" r="0.43" fill="#606060"/><circle cx="178.7" cy="276.4" r="0.43" fill="#606060"/><circle cx="173.2" cy="273.8" r="0.43" fill="#606060"/><circle cx="175.9" cy="284.8" r="0.43" fill="#606060"/><circle cx="173.3" cy="289.2" r="0.43" fill="#606060"/><circle cx="177.9" cy="277.4" r="0.43" fill="#606060"/><circle cx="171.6" cy="281.6" r="0.43" fill="#606060"/><circle cx="173.0" cy="284.4" r="0.43" fill="#606060"/><circle cx="172.9" cy="287.9" r="0.43" fill="#606060"/><circle cx="173.8" cy="278.8" r="0.43" fill="#606060"/><circle cx="170.8" cy="292.4" r="0.43" fill="#606060"/><circle cx="174.3" cy="273.4" r="0.43" fill="#606060"/><circle cx="175.0" cy="284.6" r="0.43" fill="#606060"/><circle cx="176.0" cy="278.2" r="0.43" fill="#606060"/><circle cx="172.9" cy="279.6" r="0.43" fill="#606060"/><circle cx="175.4" cy="277.7" r="0.43" fill="#606060"/><circle cx="171.4" cy="282.0" r="0.43" fill="#606060"/><circle cx="173.2" cy="289.0" r="0.43" fill="#606060"/><circle cx="172.3" cy="288.6" r="0.43" fill="#606060"/><circle cx="177.1" cy="272.8" r="0.43" fill="#606060"/><circle cx="171.7" cy="293.4" r="0.43" fill="#606060"/><circle cx="174.4" cy="283.8" r="0.43" fill="#606060"/><circle cx="170.7" cy="286.1" r="0.43" fill="#606060"/><circle cx="177.3" cy="270.4" r="0.43" fill="#606060"/><circle cx="170.9" cy="283.4" r="0.43" fill="#606060"/><circle cx="177.2" cy="272.2" r="0.43" fill="#606060"/><circle cx="173.1" cy="276.9" r="0.43" fill="#606060"/><circle cx="172.7" cy="292.9" r="0.43" fill="#606060"/><circle cx="179.3" cy="270.5" r="0.43" fill="#606060"/><circle cx="173.6" cy="285.7" r="0.43" fill="#606060"/><circle cx="174.3" cy="269.8" r="0.43" fill="#606060"/><circle cx="174.9" cy="282.6" r="0.43" fill="#606060"/><circle cx="176.2" cy="272.3" r="0.43" fill="#606060"/><circle cx="173.7" cy="273.7" r="0.43" fill="#606060"/><circle cx="174.5" cy="288.6" r="0.43" fill="#606060"/><circle cx="173.3" cy="285.8" r="0.43" fill="#606060"/><circle cx="173.0" cy="283.3" r="0.43" fill="#606060"/><circle cx="169.9" cy="292.0" r="0.43" fill="#606060"/><circle cx="171.1" cy="285.5" r="0.43" fill="#606060"/><circle cx="171.5" cy="286.5" r="0.43" fill="#606060"/><circle cx="171.3" cy="284.0" r="0.43" fill="#606060"/><circle cx="172.2" cy="275.0" r="0.43" fill="#606060"/><circle cx="171.6" cy="291.3" r="0.43" fill="#606060"/><circle cx="178.8" cy="272.9" r="0.43" fill="#606060"/><circle cx="174.5" cy="275.5" r="0.43" fill="#606060"/><circle cx="174.0" cy="270.9" r="0.43" fill="#606060"/><circle cx="172.3" cy="286.4" r="0.43" fill="#606060"/><circle cx="172.7" cy="289.4" r="0.43" fill="#606060"/><circle cx="173.8" cy="279.8" r="0.43" fill="#606060"/><circle cx="173.2" cy="286.6" r="0.43" fill="#606060"/><circle cx="171.9" cy="291.5" r="0.43" fill="#606060"/><circle cx="172.9" cy="279.0" r="0.43" fill="#606060"/><circle cx="175.7" cy="275.4" r="0.43" fill="#606060"/><circle cx="172.5" cy="285.0" r="0.43" fill="#606060"/><circle cx="174.7" cy="272.4" r="0.43" fill="#606060"/><circle cx="172.2" cy="275.4" r="0.43" fill="#606060"/><circle cx="172.9" cy="279.5" r="0.43" fill="#606060"/><circle cx="170.6" cy="291.7" r="0.43" fill="#606060"/><circle cx="173.7" cy="275.4" r="0.43" fill="#606060"/><circle cx="176.2" cy="282.5" r="0.43" fill="#606060"/><circle cx="173.0" cy="270.0" r="0.43" fill="#606060"/><circle cx="170.4" cy="284.8" r="0.43" fill="#606060"/><circle cx="172.9" cy="282.3" r="0.43" fill="#606060"/><circle cx="176.7" cy="276.2" r="0.43" fill="#606060"/><circle cx="174.1" cy="285.2" r="0.43" fill="#606060"/><circle cx="170.4" cy="289.2" r="0.43" fill="#606060"/><circle cx="171.8" cy="274.3" r="0.43" fill="#606060"/><circle cx="169.9" cy="292.8" r="0.43" fill="#606060"/><circle cx="170.8" cy="283.4" r="0.43" fill="#606060"/><circle cx="173.9" cy="285.2" r="0.43" fill="#606060"/><circle cx="176.2" cy="279.8" r="0.43" fill="#606060"/><circle cx="172.4" cy="285.6" r="0.43" fill="#606060"/><circle cx="173.0" cy="267.0" r="0.43" fill="#606060"/><circle cx="179.7" cy="268.7" r="0.43" fill="#606060"/><circle cx="173.3" cy="267.0" r="0.43" fill="#606060"/><circle cx="179.8" cy="268.1" r="0.43" fill="#606060"/><circle cx="175.0" cy="268.1" r="0.43" fill="#606060"/><circle cx="173.9" cy="268.8" r="0.43" fill="#606060"/><circle cx="180.3" cy="267.3" r="0.43" fill="#606060"/><circle cx="179.0" cy="270.9" r="0.43" fill="#606060"/><circle cx="176.1" cy="269.9" r="0.43" fill="#606060"/><circle cx="179.0" cy="269.2" r="0.43" fill="#606060"/><circle cx="173.7" cy="267.2" r="0.43" fill="#606060"/><circle cx="180.6" cy="264.8" r="0.43" fill="#606060"/><circle cx="178.5" cy="270.4" r="0.43" fill="#606060"/><circle cx="178.9" cy="269.7" r="0.43" fill="#606060"/><circle cx="176.6" cy="266.3" r="0.43" fill="#606060"/><circle cx="173.4" cy="267.9" r="0.43" fill="#606060"/><circle cx="177.1" cy="266.7" r="0.43" fill="#606060"/><circle cx="180.4" cy="270.6" r="0.43" fill="#606060"/><circle cx="173.3" cy="270.7" r="0.43" fill="#606060"/><circle cx="178.6" cy="269.0" r="0.43" fill="#606060"/><circle cx="177.4" cy="267.2" r="0.43" fill="#606060"/><circle cx="180.8" cy="267.0" r="0.43" fill="#606060"/><circle cx="175.0" cy="266.8" r="0.43" fill="#606060"/><circle cx="173.5" cy="267.3" r="0.43" fill="#606060"/><circle cx="174.6" cy="269.9" r="0.43" fill="#606060"/><circle cx="175.5" cy="270.3" r="0.43" fill="#606060"/><circle cx="178.4" cy="270.6" r="0.43" fill="#606060"/><circle cx="174.9" cy="268.6" r="0.43" fill="#606060"/><circle cx="176.6" cy="270.7" r="0.43" fill="#606060"/><circle cx="180.5" cy="267.6" r="0.43" fill="#606060"/><circle cx="180.1" cy="269.7" r="0.43" fill="#606060"/><circle cx="174.1" cy="267.0" r="0.43" fill="#606060"/><circle cx="179.5" cy="267.9" r="0.43" fill="#606060"/><circle cx="177.4" cy="268.6" r="0.43" fill="#606060"/><circle cx="178.3" cy="267.4" r="0.43" fill="#606060"/><circle cx="177.8" cy="265.5" r="0.43" fill="#606060"/><circle cx="179.6" cy="269.2" r="0.43" fill="#606060"/><circle cx="173.9" cy="268.1" r="0.43" fill="#606060"/><circle cx="174.7" cy="270.2" r="0.43" fill="#606060"/><circle cx="173.5" cy="268.3" r="0.43" fill="#606060"/><circle cx="178.6" cy="269.7" r="0.43" fill="#606060"/><circle cx="176.6" cy="269.7" r="0.43" fill="#606060"/><circle cx="176.7" cy="269.5" r="0.43" fill="#606060"/><circle cx="175.9" cy="268.8" r="0.43" fill="#606060"/><circle cx="173.1" cy="269.1" r="0.43" fill="#606060"/><circle cx="180.9" cy="268.5" r="0.43" fill="#606060"/><circle cx="178.7" cy="267.7" r="0.43" fill="#606060"/><circle cx="180.8" cy="267.7" r="0.43" fill="#606060"/><circle cx="176.9" cy="268.2" r="0.43" fill="#606060"/><circle cx="176.5" cy="269.3" r="0.43" fill="#606060"/><circle cx="173.1" cy="270.6" r="0.43" fill="#606060"/><circle cx="180.4" cy="266.9" r="0.43" fill="#606060"/><circle cx="180.5" cy="266.5" r="0.43" fill="#606060"/><circle cx="178.2" cy="268.5" r="0.43" fill="#606060"/><circle cx="174.1" cy="269.9" r="0.43" fill="#606060"/><circle cx="173.2" cy="269.0" r="0.43" fill="#606060"/><circle cx="175.4" cy="265.1" r="0.43" fill="#606060"/><circle cx="174.5" cy="266.2" r="0.43" fill="#606060"/><circle cx="180.4" cy="265.8" r="0.43" fill="#606060"/><circle cx="174.3" cy="269.2" r="0.43" fill="#606060"/><circle cx="178.9" cy="265.2" r="0.43" fill="#606060"/><circle cx="175.6" cy="269.8" r="0.43" fill="#606060"/><circle cx="175.6" cy="271.6" r="0.43" fill="#606060"/><circle cx="175.9" cy="266.9" r="0.43" fill="#606060"/><circle cx="179.7" cy="268.0" r="0.43" fill="#606060"/><circle cx="174.9" cy="270.8" r="0.43" fill="#606060"/><circle cx="178.0" cy="269.1" r="0.43" fill="#606060"/><circle cx="179.6" cy="267.4" r="0.43" fill="#606060"/><circle cx="180.6" cy="264.7" r="0.43" fill="#606060"/><circle cx="177.0" cy="267.4" r="0.43" fill="#606060"/><circle cx="183.6" cy="272.5" r="0.43" fill="#606060"/><circle cx="181.0" cy="274.4" r="0.43" fill="#606060"/><circle cx="182.0" cy="270.0" r="0.43" fill="#606060"/><circle cx="191.6" cy="263.6" r="0.43" fill="#606060"/><circle cx="180.5" cy="269.9" r="0.43" fill="#606060"/><circle cx="182.3" cy="275.0" r="0.43" fill="#606060"/><circle cx="180.0" cy="277.1" r="0.43" fill="#606060"/><circle cx="190.3" cy="276.2" r="0.43" fill="#606060"/><circle cx="185.1" cy="267.1" r="0.43" fill="#606060"/><circle cx="187.9" cy="271.3" r="0.43" fill="#606060"/><circle cx="185.1" cy="268.1" r="0.43" fill="#606060"/><circle cx="185.3" cy="274.0" r="0.43" fill="#606060"/><circle cx="189.9" cy="278.3" r="0.43" fill="#606060"/><circle cx="182.0" cy="267.3" r="0.43" fill="#606060"/><circle cx="185.3" cy="272.1" r="0.43" fill="#606060"/><circle cx="184.2" cy="265.5" r="0.43" fill="#606060"/><circle cx="181.0" cy="267.8" r="0.43" fill="#606060"/><circle cx="185.5" cy="279.5" r="0.43" fill="#606060"/><circle cx="190.9" cy="277.6" r="0.43" fill="#606060"/><circle cx="191.7" cy="279.3" r="0.43" fill="#606060"/><circle cx="187.4" cy="276.6" r="0.43" fill="#606060"/><circle cx="180.7" cy="274.2" r="0.43" fill="#606060"/><circle cx="171.0" cy="298.9" r="0.43" fill="#606060"/><circle cx="170.5" cy="301.6" r="0.43" fill="#606060"/><circle cx="172.5" cy="297.8" r="0.43" fill="#606060"/><circle cx="170.4" cy="296.7" r="0.43" fill="#606060"/><circle cx="170.2" cy="301.1" r="0.43" fill="#606060"/><circle cx="171.8" cy="299.4" r="0.43" fill="#606060"/><circle cx="171.1" cy="297.6" r="0.43" fill="#606060"/><circle cx="172.5" cy="297.0" r="0.43" fill="#606060"/><circle cx="171.9" cy="298.6" r="0.43" fill="#606060"/><circle cx="169.7" cy="298.5" r="0.43" fill="#606060"/>
<circle cx="195.5" cy="275.0" r="0.5" fill="#aaa"/><circle cx="197.0" cy="268.0" r="0.5" fill="#aaa"/><circle cx="188.0" cy="281.0" r="0.5" fill="#aaa"/><circle cx="191.0" cy="262.0" r="0.5" fill="#aaa"/><circle cx="185.0" cy="285.0" r="0.5" fill="#aaa"/><circle cx="200.0" cy="270.0" r="0.5" fill="#aaa"/>
<circle cx="193" cy="274.5" r="1.2" fill="#e3e3e3"/>
<line x1="23.6" y1="252" x2="23.6" y2="304.2" stroke="#222" stroke-width="1.4"/>
<polygon points="23.6,247.3 21.3,252.6 25.9,252.6" fill="#111"/>
<text class="t" transform="translate(17.6,288.4) rotate(-90)" font-family="Liberation Sans, sans-serif" font-size="10.2">BrdU</text>
<line x1="35" y1="308.8" x2="218" y2="308.8" stroke="#222" stroke-width="1.6"/>
<polygon points="222.6,308.8 217,306.4 217,311.2" fill="#111"/>
<text class="t" x="109.3" y="320.6" font-family="Liberation Sans, sans-serif" font-size="10.3">7 AAD</text>
<text class="t" x="268.6" y="190" font-family="Liberation Sans, sans-serif" font-size="11.8" font-weight="bold">C</text>
<line x1="306" y1="206.8" x2="306" y2="346.3" stroke="#999" stroke-width="1"/>
<line x1="306" y1="346.3" x2="512" y2="346.3" stroke="#999" stroke-width="1"/>
<line x1="303.4" y1="346.3" x2="306" y2="346.3" stroke="#999" stroke-width="1"/>
<text class="t" x="295.6" y="349.90000000000003" font-family="Liberation Sans, sans-serif" font-size="10" text-anchor="middle">0</text>
<line x1="303.4" y1="299.8" x2="306" y2="299.8" stroke="#999" stroke-width="1"/>
<text class="t" x="295.6" y="303.40000000000003" font-family="Liberation Sans, sans-serif" font-size="10" text-anchor="middle">1</text>
<line x1="303.4" y1="253.3" x2="306" y2="253.3" stroke="#999" stroke-width="1"/>
<text class="t" x="295.6" y="256.90000000000003" font-family="Liberation Sans, sans-serif" font-size="10" text-anchor="middle">2</text>
<line x1="303.4" y1="206.8" x2="306" y2="206.8" stroke="#999" stroke-width="1"/>
<text class="t" x="295.6" y="210.4" font-family="Liberation Sans, sans-serif" font-size="10" text-anchor="middle">3</text>
<text class="t" x="306.0" y="365.2" font-family="Liberation Sans, sans-serif" font-size="10" text-anchor="middle">0</text>
<line x1="347.06" y1="346.3" x2="347.06" y2="349" stroke="#999" stroke-width="1"/>
<text class="t" x="347.06" y="365.2" font-family="Liberation Sans, sans-serif" font-size="10" text-anchor="middle">3</text>
<line x1="388.12" y1="346.3" x2="388.12" y2="349" stroke="#999" stroke-width="1"/>
<text class="t" x="388.12" y="365.2" font-family="Liberation Sans, sans-serif" font-size="10" text-anchor="middle">6</text>
<line x1="429.18" y1="346.3" x2="429.18" y2="349" stroke="#999" stroke-width="1"/>
<text class="t" x="429.18" y="365.2" font-family="Liberation Sans, sans-serif" font-size="10" text-anchor="middle">9</text>
<line x1="470.24" y1="346.3" x2="470.24" y2="349" stroke="#999" stroke-width="1"/>
<text class="t" x="470.24" y="365.2" font-family="Liberation Sans, sans-serif" font-size="10" text-anchor="middle">12</text>
<line x1="511.3" y1="346.3" x2="511.3" y2="349" stroke="#999" stroke-width="1"/>
<text class="t" x="511.3" y="365.2" font-family="Liberation Sans, sans-serif" font-size="10" text-anchor="middle">26</text>
<line x1="287.6" y1="214" x2="287.6" y2="340.5" stroke="#333" stroke-width="1.3"/>
<polygon points="287.6,207.6 285.4,215.4 289.8,215.4" fill="#111"/>
<text class="t" transform="translate(285.4,272.7) rotate(-90)" font-family="Liberation Sans, sans-serif" font-size="9.7" text-anchor="middle">S/G1</text>
<line x1="310.5" y1="369.2" x2="505" y2="369.2" stroke="#111" stroke-width="1.5"/>
<polygon points="511.8,369.2 503.5,366.6 503.5,371.8" fill="#111"/>
<text class="t" x="398.9" y="382.6" font-family="Liberation Sans, sans-serif" font-size="10">Hour</text>
<line x1="319.8" y1="205.6" x2="340.4" y2="205.6" stroke="#000" stroke-width="1.5"/>
<text class="t" x="342.9" y="209.4" font-family="Liberation Sans, sans-serif" font-size="10">pcDNA</text>
<line x1="319.8" y1="219.5" x2="340.4" y2="219.5" stroke="#000" stroke-width="1.5"/>
<text class="t" x="342.9" y="223.3" font-family="Liberation Sans, sans-serif" font-size="10">Vif</text>
<line x1="319.8" y1="233.3" x2="340.4" y2="233.3" stroke="#000" stroke-width="1.5"/>
<text class="t" x="342.9" y="237.10000000000002" font-family="Liberation Sans, sans-serif" font-size="10">Vif SLQ/AAA</text>
<rect x="326.8" y="202.7" width="5.8" height="5.8" fill="#000"/>
<polygon points="329.7,216.1 326.4,222.0 333.0,222.0" fill="#000" stroke="#000" stroke-width="0.3" stroke-linejoin="round"/>
<circle cx="329.7" cy="233.4" r="3.3" fill="#000"/>
<line x1="347.06" y1="316.075" x2="347.06" y2="326.305" stroke="#111" stroke-width="1"/><line x1="344.46" y1="316.075" x2="349.66" y2="316.075" stroke="#111" stroke-width="1.1"/><line x1="344.46" y1="326.305" x2="349.66" y2="326.305" stroke="#111" stroke-width="1.1"/>
<line x1="388.12" y1="306.77500000000003" x2="388.12" y2="330.955" stroke="#111" stroke-width="1"/><line x1="385.52" y1="306.77500000000003" x2="390.72" y2="306.77500000000003" stroke="#111" stroke-width="1.1"/><line x1="385.52" y1="330.955" x2="390.72" y2="330.955" stroke="#111" stroke-width="1.1"/>
<line x1="429.18" y1="309.565" x2="429.18" y2="323.05" stroke="#111" stroke-width="1"/><line x1="426.58" y1="309.565" x2="431.78000000000003" y2="309.565" stroke="#111" stroke-width="1.1"/><line x1="426.58" y1="323.05" x2="431.78000000000003" y2="323.05" stroke="#111" stroke-width="1.1"/>
<line x1="347.06" y1="249.115" x2="347.06" y2="281.665" stroke="#111" stroke-width="1"/><line x1="344.46" y1="249.115" x2="349.66" y2="249.115" stroke="#111" stroke-width="1.1"/><line x1="344.46" y1="281.665" x2="349.66" y2="281.665" stroke="#111" stroke-width="1.1"/>
<line x1="388.12" y1="254.23000000000002" x2="388.12" y2="273.76" stroke="#111" stroke-width="1"/><line x1="385.52" y1="254.23000000000002" x2="390.72" y2="254.23000000000002" stroke="#111" stroke-width="1.1"/><line x1="385.52" y1="273.76" x2="390.72" y2="273.76" stroke="#111" stroke-width="1.1"/>
<line x1="429.18" y1="272.83000000000004" x2="429.18" y2="292.36" stroke="#111" stroke-width="1"/><line x1="426.58" y1="272.83000000000004" x2="431.78000000000003" y2="272.83000000000004" stroke="#111" stroke-width="1.1"/><line x1="426.58" y1="292.36" x2="431.78000000000003" y2="292.36" stroke="#111" stroke-width="1.1"/>
<line x1="470.24" y1="323.515" x2="470.24" y2="332.35" stroke="#111" stroke-width="1"/><line x1="467.64" y1="323.515" x2="472.84000000000003" y2="323.515" stroke="#111" stroke-width="1.1"/><line x1="467.64" y1="332.35" x2="472.84000000000003" y2="332.35" stroke="#111" stroke-width="1.1"/>
<line x1="511.3" y1="331.885" x2="511.3" y2="339.79" stroke="#111" stroke-width="1"/><line x1="508.7" y1="331.885" x2="513.9" y2="331.885" stroke="#111" stroke-width="1.1"/><line x1="508.7" y1="339.79" x2="513.9" y2="339.79" stroke="#111" stroke-width="1.1"/>
<line x1="429.18" y1="229.58500000000004" x2="429.18" y2="267.71500000000003" stroke="#111" stroke-width="1"/><line x1="426.58" y1="229.58500000000004" x2="431.78000000000003" y2="229.58500000000004" stroke="#111" stroke-width="1.1"/><line x1="426.58" y1="267.71500000000003" x2="431.78000000000003" y2="267.71500000000003" stroke="#111" stroke-width="1.1"/>
<line x1="511.3" y1="318.40000000000003" x2="511.3" y2="326.77000000000004" stroke="#111" stroke-width="1"/><line x1="508.7" y1="318.40000000000003" x2="513.9" y2="318.40000000000003" stroke="#111" stroke-width="1.1"/><line x1="508.7" y1="326.77000000000004" x2="513.9" y2="326.77000000000004" stroke="#111" stroke-width="1.1"/>
<line x1="511.3" y1="333.28000000000003" x2="511.3" y2="343.975" stroke="#111" stroke-width="1"/><line x1="508.7" y1="333.28000000000003" x2="513.9" y2="333.28000000000003" stroke="#111" stroke-width="1.1"/><line x1="508.7" y1="343.975" x2="513.9" y2="343.975" stroke="#111" stroke-width="1.1"/>
<line x1="511.3" y1="337.0" x2="511.3" y2="341.185" stroke="#111" stroke-width="1"/><line x1="508.7" y1="337.0" x2="513.9" y2="337.0" stroke="#111" stroke-width="1.1"/><line x1="508.7" y1="341.185" x2="513.9" y2="341.185" stroke="#111" stroke-width="1.1"/>
<polyline points="306.0,344.0 347.1,321.7 388.1,318.9 429.2,316.5 470.2,332.4 511.3,333.3" fill="none" stroke="#000" stroke-width="1.9" stroke-linejoin="round"/>
<polyline points="306.0,343.5 347.1,265.9 388.1,265.9 429.2,280.7 470.2,330.0 511.3,331.9" fill="none" stroke="#000" stroke-width="1.9" stroke-linejoin="round"/>
<polyline points="306.0,343.5 347.1,286.8 388.1,253.3 429.2,251.4 470.2,330.5 511.3,323.1" fill="none" stroke="#000" stroke-width="1.9" stroke-linejoin="round"/>
<rect x="302.9" y="340.8" width="6.3" height="6.3" fill="#000"/>
<rect x="343.9" y="318.5" width="6.3" height="6.3" fill="#000"/>
<rect x="385.0" y="315.7" width="6.3" height="6.3" fill="#000"/>
<rect x="426.0" y="313.4" width="6.3" height="6.3" fill="#000"/>
<rect x="467.1" y="329.2" width="6.3" height="6.3" fill="#000"/>
<rect x="508.2" y="330.1" width="6.3" height="6.3" fill="#000"/>
<polygon points="306.0,340.1 302.7,346.0 309.3,346.0" fill="#000" stroke="#000" stroke-width="0.3" stroke-linejoin="round"/>
<polygon points="347.1,262.5 343.8,268.4 350.4,268.4" fill="#000" stroke="#000" stroke-width="0.3" stroke-linejoin="round"/>
<polygon points="388.1,262.5 384.8,268.4 391.4,268.4" fill="#000" stroke="#000" stroke-width="0.3" stroke-linejoin="round"/>
<polygon points="429.2,277.3 425.9,283.2 432.5,283.2" fill="#000" stroke="#000" stroke-width="0.3" stroke-linejoin="round"/>
<polygon points="470.2,326.6 466.9,332.5 473.5,332.5" fill="#000" stroke="#000" stroke-width="0.3" stroke-linejoin="round"/>
<polygon points="511.3,328.5 508.0,334.4 514.6,334.4" fill="#000" stroke="#000" stroke-width="0.3" stroke-linejoin="round"/>
<circle cx="306.0" cy="343.5" r="3.2" fill="#000"/>
<circle cx="347.1" cy="286.8" r="3.2" fill="#000"/>
<circle cx="388.1" cy="253.3" r="3.2" fill="#000"/>
<circle cx="429.2" cy="251.4" r="3.2" fill="#000"/>
<circle cx="470.2" cy="330.5" r="3.2" fill="#000"/>
<circle cx="511.3" cy="323.1" r="3.2" fill="#000"/>
</svg>
</body></html>
